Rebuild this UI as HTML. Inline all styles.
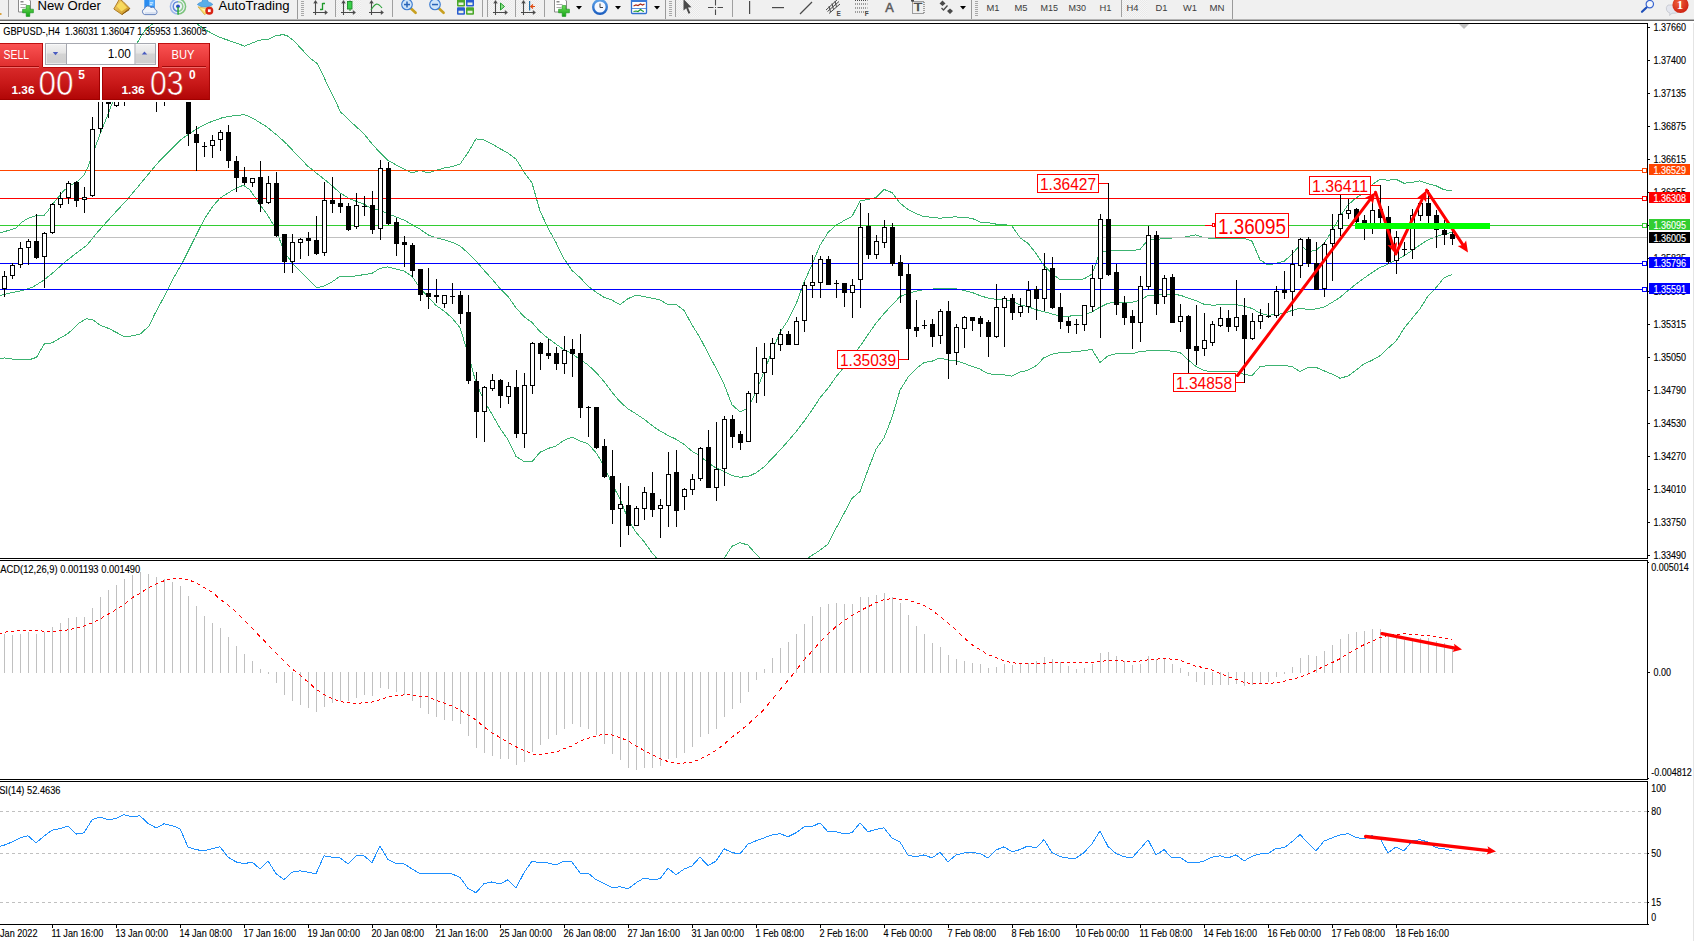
<!DOCTYPE html>
<html><head><meta charset="utf-8"><title>GBPUSD H4</title>
<style>
html,body{margin:0;padding:0;background:#fff;}
body{width:1694px;height:941px;overflow:hidden;position:relative;font-family:"Liberation Sans",sans-serif;}
</style></head><body>
<svg width="1694" height="941" viewBox="0 0 1694 941" style="position:absolute;left:0;top:0" font-family="Liberation Sans, sans-serif">
<defs><clipPath id="cm"><rect x="0" y="24" width="1647" height="534"/></clipPath><clipPath id="c2"><rect x="0" y="561" width="1647" height="218"/></clipPath><clipPath id="c3"><rect x="0" y="782" width="1647" height="142"/></clipPath></defs>
<rect x="0" y="24" width="1694" height="917" fill="#fff"/>
<g clip-path="url(#cm)">
<polyline points="-4.0,233.5 0.0,232.7 8.5,230.5 15.9,228.0 21.2,222.7 27.6,218.4 35.0,215.9 43.6,215.9 47.8,211.0 53.1,203.6 58.4,197.2 63.7,190.8 70.1,185.5 77.6,181.2 83.9,174.9 88.2,166.4 91.4,156.8 95.6,146.2 99.9,134.5 104.1,123.9 108.4,113.2 111.6,104.7 125.0,70.5 138.2,41.0 143.4,32.4 148.6,26.8 152.3,24.2 160.0,16.5 175.0,10.5 190.0,16.5 197.7,24.5 207.4,30.9 219.3,37.2 231.2,41.3 244.6,46.1 259.5,40.1 268.4,39.5 275.8,35.7 283.3,34.6 287.7,36.1 293.7,40.6 302.6,50.3 311.5,59.2 317.5,63.7 322.0,72.6 327.9,86.0 335.4,100.9 340.6,112.0 347.0,118.0 348.0,119.1 356.0,126.5 364.0,133.8 372.0,143.9 380.0,152.6 388.0,160.3 396.0,164.8 404.0,169.1 412.0,172.9 420.0,170.2 428.0,172.9 436.0,170.3 444.0,168.1 452.0,166.6 460.0,164.2 468.0,152.5 476.0,138.9 484.0,139.8 492.0,144.0 500.0,148.7 508.0,153.1 516.0,159.1 524.0,172.0 532.0,183.0 540.0,211.0 548.0,228.0 556.0,242.6 564.0,258.7 572.0,270.4 580.0,277.6 588.0,286.0 596.0,292.2 604.0,297.3 612.0,300.1 620.0,304.8 628.0,298.7 636.0,295.3 644.0,296.5 652.0,298.2 660.0,299.9 668.0,304.7 676.0,304.5 684.0,310.4 692.0,324.8 700.0,337.7 708.0,353.1 716.0,368.2 724.0,384.2 732.0,404.8 740.0,411.9 748.0,408.0 756.0,391.6 764.0,371.7 772.0,351.5 780.0,332.4 788.0,320.2 796.0,304.3 804.0,282.3 812.0,264.7 820.0,245.3 828.0,232.5 836.0,225.4 844.0,220.6 852.0,216.4 860.0,201.0 868.0,199.5 876.0,197.4 884.0,189.4 892.0,192.6 900.0,203.1 908.0,209.5 916.0,213.7 924.0,216.6 932.0,217.3 940.0,218.3 948.0,217.2 956.0,216.9 964.0,217.5 972.0,218.3 980.0,222.0 988.0,222.7 996.0,224.1 1004.0,224.4 1012.0,225.9 1020.0,237.8 1028.0,243.3 1036.0,253.4 1044.0,265.7 1052.0,273.5 1060.0,279.8 1068.0,279.8 1076.0,279.9 1084.0,278.9 1092.0,274.2 1100.0,252.1 1108.0,250.7 1116.0,250.7 1124.0,250.7 1132.0,250.7 1140.0,249.4 1148.0,239.8 1156.0,239.8 1164.0,238.3 1172.0,238.0 1180.0,237.9 1188.0,236.4 1196.0,234.9 1204.0,237.9 1212.0,238.1 1220.0,238.1 1228.0,238.1 1236.0,238.1 1244.0,238.1 1252.0,241.2 1260.0,259.8 1268.0,264.9 1276.0,263.4 1284.0,261.3 1292.0,254.4 1300.0,244.8 1308.0,251.7 1316.0,250.3 1324.0,243.5 1332.0,230.9 1340.0,216.6 1348.0,204.9 1356.0,198.0 1364.0,192.6 1372.0,184.8 1380.0,179.3 1388.0,180.3 1396.0,179.3 1404.0,183.2 1412.0,182.5 1420.0,180.9 1428.0,183.8 1436.0,185.8 1444.0,189.8 1452.0,190.7" fill="none" stroke="#3cb371" stroke-width="1" shape-rendering="crispEdges"/>
<polyline points="-4.0,296.0 0.0,295.4 10.6,292.8 21.2,290.7 31.9,287.5 42.5,281.1 53.1,272.6 63.7,263.1 74.4,254.6 87.1,245.0 95.6,234.4 104.1,224.8 114.7,213.1 127.5,199.3 138.1,186.6 148.7,173.8 159.4,161.1 170.0,150.4 180.6,139.8 191.2,132.4 201.9,126.0 212.5,121.1 223.1,117.5 233.7,115.8 244.4,114.7 249.0,116.5 255.0,119.6 265.6,126.0 276.2,134.5 286.9,144.1 297.5,155.7 308.1,166.4 318.7,174.9 329.4,183.4 340.0,192.9 347.0,197.0 348.0,198.1 356.0,201.2 364.0,204.2 372.0,208.7 380.0,210.4 388.0,213.6 396.0,216.9 404.0,220.0 412.0,224.6 420.0,229.2 428.0,234.8 436.0,237.8 444.0,239.6 452.0,242.2 460.0,245.9 468.0,252.9 476.0,260.9 484.0,270.2 492.0,279.1 500.0,288.5 508.0,296.4 516.0,307.8 524.0,316.7 532.0,322.4 540.0,331.6 548.0,338.2 556.0,344.2 564.0,349.6 572.0,353.7 580.0,359.4 588.0,364.9 596.0,372.4 604.0,381.5 612.0,392.1 620.0,401.7 628.0,408.9 636.0,413.8 644.0,419.1 652.0,425.5 660.0,431.0 668.0,435.4 676.0,439.2 684.0,444.4 692.0,451.2 700.0,456.0 708.0,462.6 716.0,467.9 724.0,471.4 732.0,475.5 740.0,477.2 748.0,476.6 756.0,472.9 764.0,466.9 772.0,458.6 780.0,450.1 788.0,441.1 796.0,431.8 804.0,421.4 812.0,410.1 820.0,397.8 828.0,388.2 836.0,376.9 844.0,367.1 852.0,357.4 860.0,346.3 868.0,334.6 876.0,323.2 884.0,313.6 892.0,305.0 900.0,296.6 908.0,293.4 916.0,291.2 924.0,289.6 932.0,289.2 940.0,288.1 948.0,288.6 956.0,288.9 964.0,290.4 972.0,292.4 980.0,295.6 988.0,298.1 996.0,299.4 1004.0,299.6 1012.0,301.0 1020.0,304.9 1028.0,306.8 1036.0,309.6 1044.0,311.7 1052.0,313.9 1060.0,316.2 1068.0,316.1 1076.0,315.8 1084.0,314.8 1092.0,311.9 1100.0,307.2 1108.0,303.3 1116.0,302.1 1124.0,302.1 1132.0,302.2 1140.0,300.4 1148.0,295.4 1156.0,295.1 1164.0,294.1 1172.0,294.6 1180.0,295.1 1188.0,298.1 1196.0,300.6 1204.0,304.2 1212.0,305.1 1220.0,304.9 1228.0,304.9 1236.0,304.6 1244.0,306.2 1252.0,308.4 1260.0,313.2 1268.0,315.3 1276.0,314.6 1284.0,313.4 1292.0,310.5 1300.0,308.1 1308.0,309.6 1316.0,308.9 1324.0,307.1 1332.0,302.5 1340.0,297.4 1348.0,290.5 1356.0,284.1 1364.0,278.2 1372.0,272.6 1380.0,267.5 1388.0,264.2 1396.0,260.2 1404.0,255.8 1412.0,250.5 1420.0,244.9 1428.0,239.8 1436.0,236.8 1444.0,233.8 1452.0,232.6" fill="none" stroke="#3cb371" stroke-width="1" shape-rendering="crispEdges"/>
<polyline points="-4.0,359.3 0.0,358.8 4.7,357.9 11.8,359.0 18.9,359.9 28.9,359.9 36.6,357.3 44.3,343.9 52.0,342.8 67.9,333.7 79.1,323.0 86.2,318.7 93.3,320.1 100.4,325.4 108.6,328.4 125.1,337.0 132.2,335.8 140.5,333.9 148.8,326.2 154.7,314.2 161.7,301.2 167.9,289.6 174.2,276.9 182.7,262.0 191.2,245.0 199.7,228.0 206.1,216.3 212.5,206.7 219.9,198.2 231.6,190.8 243.3,185.1 249.7,189.7 255.0,197.2 261.4,206.7 267.7,215.2 274.1,225.9 278.4,236.5 282.6,247.1 286.9,255.6 293.2,264.1 301.7,272.6 310.2,281.1 316.6,287.9 323.0,286.4 331.5,282.2 340.0,276.4 347.0,276.4 348.0,277.0 356.0,275.9 364.0,274.6 372.0,273.4 380.0,268.3 388.0,266.9 396.0,269.0 404.0,270.9 412.0,276.3 420.0,288.1 428.0,296.7 436.0,305.4 444.0,311.0 452.0,317.9 460.0,327.7 468.0,353.4 476.0,382.8 484.0,400.6 492.0,414.1 500.0,428.3 508.0,439.6 516.0,456.4 524.0,461.4 532.0,461.8 540.0,452.3 548.0,448.5 556.0,445.9 564.0,440.4 572.0,437.0 580.0,441.1 588.0,443.8 596.0,452.7 604.0,465.7 612.0,484.2 620.0,498.6 628.0,519.2 636.0,532.3 644.0,541.6 652.0,552.8 660.0,562.1 668.0,566.1 676.0,574.0 684.0,578.5 692.0,577.7 700.0,574.3 708.0,572.1 716.0,567.6 724.0,558.5 732.0,546.2 740.0,542.6 748.0,545.1 756.0,554.1 764.0,562.2 772.0,565.8 780.0,567.9 788.0,562.0 796.0,559.2 804.0,560.5 812.0,555.4 820.0,550.2 828.0,544.0 836.0,528.4 844.0,513.5 852.0,498.3 860.0,491.6 868.0,469.8 876.0,449.1 884.0,437.9 892.0,417.4 900.0,390.2 908.0,377.3 916.0,368.8 924.0,362.6 932.0,361.2 940.0,357.9 948.0,359.9 956.0,360.8 964.0,363.4 972.0,366.4 980.0,369.1 988.0,373.6 996.0,374.6 1004.0,374.9 1012.0,376.1 1020.0,372.1 1028.0,370.2 1036.0,365.8 1044.0,357.7 1052.0,354.3 1060.0,352.6 1068.0,352.3 1076.0,351.6 1084.0,350.6 1092.0,349.5 1100.0,362.4 1108.0,355.9 1116.0,353.6 1124.0,353.6 1132.0,353.8 1140.0,351.4 1148.0,350.9 1156.0,350.5 1164.0,350.0 1172.0,351.3 1180.0,352.4 1188.0,359.7 1196.0,366.4 1204.0,370.5 1212.0,372.0 1220.0,371.7 1228.0,371.8 1236.0,371.1 1244.0,374.4 1252.0,375.6 1260.0,366.6 1268.0,365.7 1276.0,365.9 1284.0,365.5 1292.0,366.6 1300.0,371.5 1308.0,367.4 1316.0,367.4 1324.0,370.8 1332.0,374.1 1340.0,378.2 1348.0,376.1 1356.0,370.1 1364.0,363.9 1372.0,360.3 1380.0,355.7 1388.0,348.2 1396.0,341.2 1404.0,328.4 1412.0,318.5 1420.0,308.9 1428.0,295.9 1436.0,287.7 1444.0,277.9 1452.0,274.4" fill="none" stroke="#3cb371" stroke-width="1" shape-rendering="crispEdges"/>
<rect x="0" y="237" width="1647" height="1" fill="#c0c0c0"/>
<rect x="0" y="170" width="1642" height="1" fill="#ff4500"/>
<rect x="0" y="198" width="1642" height="1" fill="#ff0000"/>
<rect x="0" y="225" width="1642" height="1" fill="#32cd32"/>
<rect x="0" y="263" width="1642" height="1" fill="#0000ff"/>
<rect x="0" y="289" width="1642" height="1" fill="#0000ff"/>
<g shape-rendering="crispEdges">
<rect x="4" y="271" width="1" height="26" fill="#000"/>
<rect x="2" y="276" width="5" height="13" fill="#000"/>
<rect x="3" y="277" width="3" height="11" fill="#fff"/>
<rect x="12" y="263" width="1" height="16" fill="#000"/>
<rect x="10" y="265" width="5" height="11" fill="#000"/>
<rect x="11" y="266" width="3" height="9" fill="#fff"/>
<rect x="20" y="242" width="1" height="26" fill="#000"/>
<rect x="18" y="248" width="5" height="17" fill="#000"/>
<rect x="19" y="249" width="3" height="15" fill="#fff"/>
<rect x="28" y="239" width="1" height="26" fill="#000"/>
<rect x="26" y="241" width="5" height="7" fill="#000"/>
<rect x="27" y="242" width="3" height="5" fill="#fff"/>
<rect x="36" y="214" width="1" height="45" fill="#000"/>
<rect x="34" y="241" width="5" height="17" fill="#000"/>
<rect x="44" y="232" width="1" height="56" fill="#000"/>
<rect x="42" y="233" width="5" height="24" fill="#000"/>
<rect x="43" y="234" width="3" height="22" fill="#fff"/>
<rect x="52" y="203" width="1" height="31" fill="#000"/>
<rect x="50" y="204" width="5" height="29" fill="#000"/>
<rect x="51" y="205" width="3" height="27" fill="#fff"/>
<rect x="60" y="192" width="1" height="16" fill="#000"/>
<rect x="58" y="198" width="5" height="7" fill="#000"/>
<rect x="59" y="199" width="3" height="5" fill="#fff"/>
<rect x="68" y="181" width="1" height="23" fill="#000"/>
<rect x="66" y="183" width="5" height="15" fill="#000"/>
<rect x="67" y="184" width="3" height="13" fill="#fff"/>
<rect x="76" y="181" width="1" height="26" fill="#000"/>
<rect x="74" y="182" width="5" height="19" fill="#000"/>
<rect x="84" y="187" width="1" height="26" fill="#000"/>
<rect x="82" y="197" width="5" height="3" fill="#000"/>
<rect x="83" y="198" width="3" height="1" fill="#fff"/>
<rect x="92" y="117" width="1" height="80" fill="#000"/>
<rect x="90" y="129" width="5" height="67" fill="#000"/>
<rect x="91" y="130" width="3" height="65" fill="#fff"/>
<rect x="100" y="60" width="1" height="73" fill="#000"/>
<rect x="98" y="70" width="5" height="59" fill="#000"/>
<rect x="99" y="71" width="3" height="57" fill="#fff"/>
<rect x="108" y="80" width="1" height="38" fill="#000"/>
<rect x="106" y="85" width="5" height="19" fill="#000"/>
<rect x="116" y="80" width="1" height="27" fill="#000"/>
<rect x="114" y="85" width="5" height="21" fill="#000"/>
<rect x="115" y="86" width="3" height="19" fill="#fff"/>
<rect x="124" y="80" width="1" height="26" fill="#000"/>
<rect x="122" y="85" width="5" height="10" fill="#000"/>
<rect x="123" y="86" width="3" height="8" fill="#fff"/>
<rect x="132" y="80" width="1" height="18" fill="#000"/>
<rect x="130" y="85" width="5" height="10" fill="#000"/>
<rect x="131" y="86" width="3" height="8" fill="#fff"/>
<rect x="140" y="80" width="1" height="18" fill="#000"/>
<rect x="138" y="85" width="5" height="10" fill="#000"/>
<rect x="139" y="86" width="3" height="8" fill="#fff"/>
<rect x="148" y="80" width="1" height="18" fill="#000"/>
<rect x="146" y="85" width="5" height="10" fill="#000"/>
<rect x="147" y="86" width="3" height="8" fill="#fff"/>
<rect x="156" y="80" width="1" height="32" fill="#000"/>
<rect x="154" y="85" width="5" height="10" fill="#000"/>
<rect x="155" y="86" width="3" height="8" fill="#fff"/>
<rect x="164" y="80" width="1" height="26" fill="#000"/>
<rect x="162" y="85" width="5" height="10" fill="#000"/>
<rect x="163" y="86" width="3" height="8" fill="#fff"/>
<rect x="172" y="80" width="1" height="18" fill="#000"/>
<rect x="170" y="85" width="5" height="10" fill="#000"/>
<rect x="171" y="86" width="3" height="8" fill="#fff"/>
<rect x="180" y="80" width="1" height="18" fill="#000"/>
<rect x="178" y="85" width="5" height="10" fill="#000"/>
<rect x="179" y="86" width="3" height="8" fill="#fff"/>
<rect x="188" y="80" width="1" height="66" fill="#000"/>
<rect x="186" y="85" width="5" height="49" fill="#000"/>
<rect x="196" y="126" width="1" height="45" fill="#000"/>
<rect x="194" y="134" width="5" height="9" fill="#000"/>
<rect x="204" y="142" width="1" height="15" fill="#000"/>
<rect x="202" y="146" width="5" height="1" fill="#000"/>
<rect x="212" y="135" width="1" height="23" fill="#000"/>
<rect x="210" y="140" width="5" height="6" fill="#000"/>
<rect x="211" y="141" width="3" height="4" fill="#fff"/>
<rect x="220" y="130" width="1" height="21" fill="#000"/>
<rect x="218" y="132" width="5" height="8" fill="#000"/>
<rect x="219" y="133" width="3" height="6" fill="#fff"/>
<rect x="228" y="125" width="1" height="43" fill="#000"/>
<rect x="226" y="132" width="5" height="29" fill="#000"/>
<rect x="236" y="156" width="1" height="36" fill="#000"/>
<rect x="234" y="161" width="5" height="17" fill="#000"/>
<rect x="244" y="167" width="1" height="18" fill="#000"/>
<rect x="242" y="177" width="5" height="6" fill="#000"/>
<rect x="252" y="178" width="1" height="9" fill="#000"/>
<rect x="250" y="178" width="5" height="5" fill="#000"/>
<rect x="251" y="179" width="3" height="3" fill="#fff"/>
<rect x="260" y="161" width="1" height="51" fill="#000"/>
<rect x="258" y="177" width="5" height="27" fill="#000"/>
<rect x="268" y="176" width="1" height="28" fill="#000"/>
<rect x="266" y="183" width="5" height="20" fill="#000"/>
<rect x="267" y="184" width="3" height="18" fill="#fff"/>
<rect x="276" y="172" width="1" height="65" fill="#000"/>
<rect x="274" y="183" width="5" height="53" fill="#000"/>
<rect x="284" y="234" width="1" height="39" fill="#000"/>
<rect x="282" y="234" width="5" height="28" fill="#000"/>
<rect x="292" y="234" width="1" height="39" fill="#000"/>
<rect x="290" y="242" width="5" height="20" fill="#000"/>
<rect x="291" y="243" width="3" height="18" fill="#fff"/>
<rect x="300" y="238" width="1" height="21" fill="#000"/>
<rect x="298" y="239" width="5" height="4" fill="#000"/>
<rect x="299" y="240" width="3" height="2" fill="#fff"/>
<rect x="308" y="232" width="1" height="24" fill="#000"/>
<rect x="306" y="238" width="5" height="3" fill="#000"/>
<rect x="316" y="216" width="1" height="39" fill="#000"/>
<rect x="314" y="240" width="5" height="14" fill="#000"/>
<rect x="324" y="182" width="1" height="74" fill="#000"/>
<rect x="322" y="200" width="5" height="53" fill="#000"/>
<rect x="323" y="201" width="3" height="51" fill="#fff"/>
<rect x="332" y="177" width="1" height="36" fill="#000"/>
<rect x="330" y="200" width="5" height="4" fill="#000"/>
<rect x="340" y="194" width="1" height="19" fill="#000"/>
<rect x="338" y="203" width="5" height="4" fill="#000"/>
<rect x="348" y="203" width="1" height="28" fill="#000"/>
<rect x="346" y="206" width="5" height="24" fill="#000"/>
<rect x="356" y="193" width="1" height="36" fill="#000"/>
<rect x="354" y="205" width="5" height="22" fill="#000"/>
<rect x="355" y="206" width="3" height="20" fill="#fff"/>
<rect x="364" y="196" width="1" height="20" fill="#000"/>
<rect x="362" y="206" width="5" height="1" fill="#000"/>
<rect x="372" y="191" width="1" height="43" fill="#000"/>
<rect x="370" y="205" width="5" height="25" fill="#000"/>
<rect x="380" y="160" width="1" height="80" fill="#000"/>
<rect x="378" y="168" width="5" height="61" fill="#000"/>
<rect x="379" y="169" width="3" height="59" fill="#fff"/>
<rect x="388" y="162" width="1" height="63" fill="#000"/>
<rect x="386" y="168" width="5" height="56" fill="#000"/>
<rect x="396" y="218" width="1" height="38" fill="#000"/>
<rect x="394" y="222" width="5" height="22" fill="#000"/>
<rect x="404" y="236" width="1" height="31" fill="#000"/>
<rect x="402" y="242" width="5" height="3" fill="#000"/>
<rect x="412" y="243" width="1" height="34" fill="#000"/>
<rect x="410" y="245" width="5" height="26" fill="#000"/>
<rect x="420" y="269" width="1" height="32" fill="#000"/>
<rect x="418" y="269" width="5" height="26" fill="#000"/>
<rect x="428" y="268" width="1" height="41" fill="#000"/>
<rect x="426" y="293" width="5" height="4" fill="#000"/>
<rect x="436" y="279" width="1" height="24" fill="#000"/>
<rect x="434" y="295" width="5" height="2" fill="#000"/>
<rect x="444" y="295" width="1" height="13" fill="#000"/>
<rect x="442" y="295" width="5" height="9" fill="#000"/>
<rect x="443" y="296" width="3" height="7" fill="#fff"/>
<rect x="452" y="283" width="1" height="21" fill="#000"/>
<rect x="450" y="296" width="5" height="1" fill="#000"/>
<rect x="460" y="291" width="1" height="33" fill="#000"/>
<rect x="458" y="295" width="5" height="19" fill="#000"/>
<rect x="468" y="295" width="1" height="89" fill="#000"/>
<rect x="466" y="312" width="5" height="69" fill="#000"/>
<rect x="476" y="372" width="1" height="66" fill="#000"/>
<rect x="474" y="381" width="5" height="31" fill="#000"/>
<rect x="484" y="386" width="1" height="56" fill="#000"/>
<rect x="482" y="387" width="5" height="25" fill="#000"/>
<rect x="483" y="388" width="3" height="23" fill="#fff"/>
<rect x="492" y="374" width="1" height="17" fill="#000"/>
<rect x="490" y="380" width="5" height="9" fill="#000"/>
<rect x="491" y="381" width="3" height="7" fill="#fff"/>
<rect x="500" y="379" width="1" height="29" fill="#000"/>
<rect x="498" y="380" width="5" height="16" fill="#000"/>
<rect x="508" y="382" width="1" height="22" fill="#000"/>
<rect x="506" y="386" width="5" height="11" fill="#000"/>
<rect x="507" y="387" width="3" height="9" fill="#fff"/>
<rect x="516" y="370" width="1" height="68" fill="#000"/>
<rect x="514" y="387" width="5" height="47" fill="#000"/>
<rect x="524" y="373" width="1" height="75" fill="#000"/>
<rect x="522" y="385" width="5" height="49" fill="#000"/>
<rect x="523" y="386" width="3" height="47" fill="#fff"/>
<rect x="532" y="342" width="1" height="52" fill="#000"/>
<rect x="530" y="343" width="5" height="43" fill="#000"/>
<rect x="531" y="344" width="3" height="41" fill="#fff"/>
<rect x="540" y="342" width="1" height="28" fill="#000"/>
<rect x="538" y="343" width="5" height="11" fill="#000"/>
<rect x="548" y="339" width="1" height="20" fill="#000"/>
<rect x="546" y="353" width="5" height="3" fill="#000"/>
<rect x="556" y="347" width="1" height="23" fill="#000"/>
<rect x="554" y="353" width="5" height="11" fill="#000"/>
<rect x="564" y="336" width="1" height="38" fill="#000"/>
<rect x="562" y="350" width="5" height="14" fill="#000"/>
<rect x="563" y="351" width="3" height="12" fill="#fff"/>
<rect x="572" y="339" width="1" height="38" fill="#000"/>
<rect x="570" y="349" width="5" height="5" fill="#000"/>
<rect x="580" y="334" width="1" height="84" fill="#000"/>
<rect x="578" y="353" width="5" height="55" fill="#000"/>
<rect x="588" y="406" width="1" height="31" fill="#000"/>
<rect x="586" y="407" width="5" height="1" fill="#000"/>
<rect x="596" y="407" width="1" height="42" fill="#000"/>
<rect x="594" y="407" width="5" height="41" fill="#000"/>
<rect x="604" y="439" width="1" height="39" fill="#000"/>
<rect x="602" y="446" width="5" height="31" fill="#000"/>
<rect x="612" y="450" width="1" height="74" fill="#000"/>
<rect x="610" y="476" width="5" height="34" fill="#000"/>
<rect x="620" y="483" width="1" height="64" fill="#000"/>
<rect x="618" y="504" width="5" height="5" fill="#000"/>
<rect x="619" y="505" width="3" height="3" fill="#fff"/>
<rect x="628" y="486" width="1" height="49" fill="#000"/>
<rect x="626" y="505" width="5" height="21" fill="#000"/>
<rect x="636" y="506" width="1" height="20" fill="#000"/>
<rect x="634" y="508" width="5" height="18" fill="#000"/>
<rect x="635" y="509" width="3" height="16" fill="#fff"/>
<rect x="644" y="487" width="1" height="33" fill="#000"/>
<rect x="642" y="492" width="5" height="17" fill="#000"/>
<rect x="643" y="493" width="3" height="15" fill="#fff"/>
<rect x="652" y="472" width="1" height="45" fill="#000"/>
<rect x="650" y="493" width="5" height="17" fill="#000"/>
<rect x="660" y="499" width="1" height="39" fill="#000"/>
<rect x="658" y="505" width="5" height="4" fill="#000"/>
<rect x="659" y="506" width="3" height="2" fill="#fff"/>
<rect x="668" y="452" width="1" height="75" fill="#000"/>
<rect x="666" y="474" width="5" height="32" fill="#000"/>
<rect x="667" y="475" width="3" height="30" fill="#fff"/>
<rect x="676" y="450" width="1" height="77" fill="#000"/>
<rect x="674" y="472" width="5" height="39" fill="#000"/>
<rect x="684" y="488" width="1" height="22" fill="#000"/>
<rect x="682" y="489" width="5" height="8" fill="#000"/>
<rect x="683" y="490" width="3" height="6" fill="#fff"/>
<rect x="692" y="474" width="1" height="21" fill="#000"/>
<rect x="690" y="479" width="5" height="11" fill="#000"/>
<rect x="691" y="480" width="3" height="9" fill="#fff"/>
<rect x="700" y="447" width="1" height="34" fill="#000"/>
<rect x="698" y="448" width="5" height="31" fill="#000"/>
<rect x="699" y="449" width="3" height="29" fill="#fff"/>
<rect x="708" y="430" width="1" height="58" fill="#000"/>
<rect x="706" y="447" width="5" height="41" fill="#000"/>
<rect x="716" y="422" width="1" height="79" fill="#000"/>
<rect x="714" y="469" width="5" height="19" fill="#000"/>
<rect x="715" y="470" width="3" height="17" fill="#fff"/>
<rect x="724" y="416" width="1" height="70" fill="#000"/>
<rect x="722" y="419" width="5" height="50" fill="#000"/>
<rect x="723" y="420" width="3" height="48" fill="#fff"/>
<rect x="732" y="415" width="1" height="33" fill="#000"/>
<rect x="730" y="419" width="5" height="18" fill="#000"/>
<rect x="740" y="431" width="1" height="19" fill="#000"/>
<rect x="738" y="434" width="5" height="9" fill="#000"/>
<rect x="748" y="391" width="1" height="51" fill="#000"/>
<rect x="746" y="393" width="5" height="49" fill="#000"/>
<rect x="747" y="394" width="3" height="47" fill="#fff"/>
<rect x="756" y="347" width="1" height="56" fill="#000"/>
<rect x="754" y="373" width="5" height="21" fill="#000"/>
<rect x="755" y="374" width="3" height="19" fill="#fff"/>
<rect x="764" y="343" width="1" height="53" fill="#000"/>
<rect x="762" y="358" width="5" height="15" fill="#000"/>
<rect x="763" y="359" width="3" height="13" fill="#fff"/>
<rect x="772" y="338" width="1" height="37" fill="#000"/>
<rect x="770" y="343" width="5" height="16" fill="#000"/>
<rect x="771" y="344" width="3" height="14" fill="#fff"/>
<rect x="780" y="329" width="1" height="22" fill="#000"/>
<rect x="778" y="334" width="5" height="11" fill="#000"/>
<rect x="779" y="335" width="3" height="9" fill="#fff"/>
<rect x="788" y="331" width="1" height="14" fill="#000"/>
<rect x="786" y="334" width="5" height="11" fill="#000"/>
<rect x="796" y="317" width="1" height="28" fill="#000"/>
<rect x="794" y="321" width="5" height="24" fill="#000"/>
<rect x="795" y="322" width="3" height="22" fill="#fff"/>
<rect x="804" y="282" width="1" height="50" fill="#000"/>
<rect x="802" y="285" width="5" height="36" fill="#000"/>
<rect x="803" y="286" width="3" height="34" fill="#fff"/>
<rect x="812" y="255" width="1" height="43" fill="#000"/>
<rect x="810" y="282" width="5" height="4" fill="#000"/>
<rect x="811" y="283" width="3" height="2" fill="#fff"/>
<rect x="820" y="256" width="1" height="42" fill="#000"/>
<rect x="818" y="259" width="5" height="24" fill="#000"/>
<rect x="819" y="260" width="3" height="22" fill="#fff"/>
<rect x="828" y="256" width="1" height="29" fill="#000"/>
<rect x="826" y="259" width="5" height="26" fill="#000"/>
<rect x="836" y="280" width="1" height="18" fill="#000"/>
<rect x="834" y="283" width="5" height="1" fill="#000"/>
<rect x="844" y="283" width="1" height="24" fill="#000"/>
<rect x="842" y="283" width="5" height="10" fill="#000"/>
<rect x="852" y="279" width="1" height="39" fill="#000"/>
<rect x="850" y="285" width="5" height="8" fill="#000"/>
<rect x="851" y="286" width="3" height="6" fill="#fff"/>
<rect x="860" y="203" width="1" height="105" fill="#000"/>
<rect x="858" y="227" width="5" height="53" fill="#000"/>
<rect x="859" y="228" width="3" height="51" fill="#fff"/>
<rect x="868" y="213" width="1" height="46" fill="#000"/>
<rect x="866" y="226" width="5" height="29" fill="#000"/>
<rect x="876" y="235" width="1" height="24" fill="#000"/>
<rect x="874" y="241" width="5" height="14" fill="#000"/>
<rect x="875" y="242" width="3" height="12" fill="#fff"/>
<rect x="884" y="220" width="1" height="28" fill="#000"/>
<rect x="882" y="227" width="5" height="16" fill="#000"/>
<rect x="883" y="228" width="3" height="14" fill="#fff"/>
<rect x="892" y="223" width="1" height="43" fill="#000"/>
<rect x="890" y="227" width="5" height="37" fill="#000"/>
<rect x="900" y="255" width="1" height="48" fill="#000"/>
<rect x="898" y="262" width="5" height="14" fill="#000"/>
<rect x="908" y="264" width="1" height="96" fill="#000"/>
<rect x="906" y="274" width="5" height="55" fill="#000"/>
<rect x="916" y="300" width="1" height="37" fill="#000"/>
<rect x="914" y="327" width="5" height="4" fill="#000"/>
<rect x="924" y="320" width="1" height="9" fill="#000"/>
<rect x="922" y="325" width="5" height="1" fill="#000"/>
<rect x="932" y="319" width="1" height="28" fill="#000"/>
<rect x="930" y="324" width="5" height="13" fill="#000"/>
<rect x="940" y="309" width="1" height="35" fill="#000"/>
<rect x="938" y="311" width="5" height="25" fill="#000"/>
<rect x="939" y="312" width="3" height="23" fill="#fff"/>
<rect x="948" y="301" width="1" height="78" fill="#000"/>
<rect x="946" y="311" width="5" height="43" fill="#000"/>
<rect x="956" y="324" width="1" height="41" fill="#000"/>
<rect x="954" y="327" width="5" height="26" fill="#000"/>
<rect x="955" y="328" width="3" height="24" fill="#fff"/>
<rect x="964" y="316" width="1" height="32" fill="#000"/>
<rect x="962" y="317" width="5" height="12" fill="#000"/>
<rect x="963" y="318" width="3" height="10" fill="#fff"/>
<rect x="972" y="317" width="1" height="14" fill="#000"/>
<rect x="970" y="317" width="5" height="4" fill="#000"/>
<rect x="980" y="316" width="1" height="21" fill="#000"/>
<rect x="978" y="318" width="5" height="6" fill="#000"/>
<rect x="988" y="320" width="1" height="37" fill="#000"/>
<rect x="986" y="322" width="5" height="15" fill="#000"/>
<rect x="996" y="284" width="1" height="54" fill="#000"/>
<rect x="994" y="307" width="5" height="30" fill="#000"/>
<rect x="995" y="308" width="3" height="28" fill="#fff"/>
<rect x="1004" y="296" width="1" height="51" fill="#000"/>
<rect x="1002" y="298" width="5" height="10" fill="#000"/>
<rect x="1003" y="299" width="3" height="8" fill="#fff"/>
<rect x="1012" y="294" width="1" height="26" fill="#000"/>
<rect x="1010" y="298" width="5" height="15" fill="#000"/>
<rect x="1020" y="298" width="1" height="19" fill="#000"/>
<rect x="1018" y="306" width="5" height="7" fill="#000"/>
<rect x="1019" y="307" width="3" height="5" fill="#fff"/>
<rect x="1028" y="281" width="1" height="32" fill="#000"/>
<rect x="1026" y="290" width="5" height="17" fill="#000"/>
<rect x="1027" y="291" width="3" height="15" fill="#fff"/>
<rect x="1036" y="286" width="1" height="34" fill="#000"/>
<rect x="1034" y="289" width="5" height="10" fill="#000"/>
<rect x="1044" y="253" width="1" height="58" fill="#000"/>
<rect x="1042" y="269" width="5" height="30" fill="#000"/>
<rect x="1043" y="270" width="3" height="28" fill="#fff"/>
<rect x="1052" y="257" width="1" height="52" fill="#000"/>
<rect x="1050" y="268" width="5" height="40" fill="#000"/>
<rect x="1060" y="293" width="1" height="36" fill="#000"/>
<rect x="1058" y="307" width="5" height="15" fill="#000"/>
<rect x="1068" y="317" width="1" height="16" fill="#000"/>
<rect x="1066" y="321" width="5" height="5" fill="#000"/>
<rect x="1076" y="319" width="1" height="15" fill="#000"/>
<rect x="1074" y="324" width="5" height="1" fill="#000"/>
<rect x="1084" y="305" width="1" height="26" fill="#000"/>
<rect x="1082" y="305" width="5" height="20" fill="#000"/>
<rect x="1083" y="306" width="3" height="18" fill="#fff"/>
<rect x="1092" y="265" width="1" height="47" fill="#000"/>
<rect x="1090" y="278" width="5" height="29" fill="#000"/>
<rect x="1091" y="279" width="3" height="27" fill="#fff"/>
<rect x="1100" y="214" width="1" height="124" fill="#000"/>
<rect x="1098" y="219" width="5" height="60" fill="#000"/>
<rect x="1099" y="220" width="3" height="58" fill="#fff"/>
<rect x="1108" y="213" width="1" height="63" fill="#000"/>
<rect x="1106" y="219" width="5" height="56" fill="#000"/>
<rect x="1116" y="264" width="1" height="51" fill="#000"/>
<rect x="1114" y="272" width="5" height="33" fill="#000"/>
<rect x="1124" y="296" width="1" height="29" fill="#000"/>
<rect x="1122" y="303" width="5" height="15" fill="#000"/>
<rect x="1132" y="310" width="1" height="39" fill="#000"/>
<rect x="1130" y="316" width="5" height="7" fill="#000"/>
<rect x="1140" y="276" width="1" height="66" fill="#000"/>
<rect x="1138" y="286" width="5" height="37" fill="#000"/>
<rect x="1139" y="287" width="3" height="35" fill="#fff"/>
<rect x="1148" y="226" width="1" height="64" fill="#000"/>
<rect x="1146" y="235" width="5" height="52" fill="#000"/>
<rect x="1147" y="236" width="3" height="50" fill="#fff"/>
<rect x="1156" y="231" width="1" height="84" fill="#000"/>
<rect x="1154" y="235" width="5" height="69" fill="#000"/>
<rect x="1164" y="275" width="1" height="29" fill="#000"/>
<rect x="1162" y="278" width="5" height="19" fill="#000"/>
<rect x="1163" y="279" width="3" height="17" fill="#fff"/>
<rect x="1172" y="274" width="1" height="49" fill="#000"/>
<rect x="1170" y="277" width="5" height="46" fill="#000"/>
<rect x="1180" y="304" width="1" height="28" fill="#000"/>
<rect x="1178" y="316" width="5" height="6" fill="#000"/>
<rect x="1179" y="317" width="3" height="4" fill="#fff"/>
<rect x="1188" y="315" width="1" height="66" fill="#000"/>
<rect x="1186" y="316" width="5" height="33" fill="#000"/>
<rect x="1196" y="305" width="1" height="60" fill="#000"/>
<rect x="1194" y="346" width="5" height="5" fill="#000"/>
<rect x="1204" y="313" width="1" height="43" fill="#000"/>
<rect x="1202" y="340" width="5" height="9" fill="#000"/>
<rect x="1203" y="341" width="3" height="7" fill="#fff"/>
<rect x="1212" y="321" width="1" height="25" fill="#000"/>
<rect x="1210" y="324" width="5" height="19" fill="#000"/>
<rect x="1211" y="325" width="3" height="17" fill="#fff"/>
<rect x="1220" y="307" width="1" height="20" fill="#000"/>
<rect x="1218" y="318" width="5" height="8" fill="#000"/>
<rect x="1219" y="319" width="3" height="6" fill="#fff"/>
<rect x="1228" y="310" width="1" height="22" fill="#000"/>
<rect x="1226" y="318" width="5" height="9" fill="#000"/>
<rect x="1236" y="280" width="1" height="51" fill="#000"/>
<rect x="1234" y="317" width="5" height="10" fill="#000"/>
<rect x="1235" y="318" width="3" height="8" fill="#fff"/>
<rect x="1244" y="298" width="1" height="85" fill="#000"/>
<rect x="1242" y="315" width="5" height="24" fill="#000"/>
<rect x="1252" y="313" width="1" height="27" fill="#000"/>
<rect x="1250" y="321" width="5" height="18" fill="#000"/>
<rect x="1251" y="322" width="3" height="16" fill="#fff"/>
<rect x="1260" y="309" width="1" height="20" fill="#000"/>
<rect x="1258" y="315" width="5" height="7" fill="#000"/>
<rect x="1259" y="316" width="3" height="5" fill="#fff"/>
<rect x="1268" y="303" width="1" height="15" fill="#000"/>
<rect x="1266" y="316" width="5" height="1" fill="#000"/>
<rect x="1276" y="286" width="1" height="32" fill="#000"/>
<rect x="1274" y="291" width="5" height="25" fill="#000"/>
<rect x="1275" y="292" width="3" height="23" fill="#fff"/>
<rect x="1284" y="271" width="1" height="28" fill="#000"/>
<rect x="1282" y="290" width="5" height="3" fill="#000"/>
<rect x="1292" y="250" width="1" height="66" fill="#000"/>
<rect x="1290" y="264" width="5" height="28" fill="#000"/>
<rect x="1291" y="265" width="3" height="26" fill="#fff"/>
<rect x="1300" y="238" width="1" height="40" fill="#000"/>
<rect x="1298" y="239" width="5" height="27" fill="#000"/>
<rect x="1299" y="240" width="3" height="25" fill="#fff"/>
<rect x="1308" y="237" width="1" height="30" fill="#000"/>
<rect x="1306" y="239" width="5" height="25" fill="#000"/>
<rect x="1316" y="242" width="1" height="48" fill="#000"/>
<rect x="1314" y="263" width="5" height="27" fill="#000"/>
<rect x="1324" y="242" width="1" height="55" fill="#000"/>
<rect x="1322" y="244" width="5" height="45" fill="#000"/>
<rect x="1323" y="245" width="3" height="43" fill="#fff"/>
<rect x="1332" y="214" width="1" height="67" fill="#000"/>
<rect x="1330" y="229" width="5" height="15" fill="#000"/>
<rect x="1331" y="230" width="3" height="13" fill="#fff"/>
<rect x="1340" y="191" width="1" height="45" fill="#000"/>
<rect x="1338" y="214" width="5" height="15" fill="#000"/>
<rect x="1339" y="215" width="3" height="13" fill="#fff"/>
<rect x="1348" y="199" width="1" height="20" fill="#000"/>
<rect x="1346" y="210" width="5" height="4" fill="#000"/>
<rect x="1347" y="211" width="3" height="2" fill="#fff"/>
<rect x="1356" y="208" width="1" height="15" fill="#000"/>
<rect x="1354" y="209" width="5" height="13" fill="#000"/>
<rect x="1364" y="215" width="1" height="25" fill="#000"/>
<rect x="1362" y="220" width="5" height="5" fill="#000"/>
<rect x="1372" y="194" width="1" height="40" fill="#000"/>
<rect x="1370" y="210" width="5" height="15" fill="#000"/>
<rect x="1371" y="211" width="3" height="13" fill="#fff"/>
<rect x="1380" y="193" width="1" height="32" fill="#000"/>
<rect x="1378" y="209" width="5" height="9" fill="#000"/>
<rect x="1388" y="206" width="1" height="58" fill="#000"/>
<rect x="1386" y="217" width="5" height="45" fill="#000"/>
<rect x="1396" y="231" width="1" height="43" fill="#000"/>
<rect x="1394" y="237" width="5" height="24" fill="#000"/>
<rect x="1395" y="238" width="3" height="22" fill="#fff"/>
<rect x="1404" y="242" width="1" height="14" fill="#000"/>
<rect x="1402" y="249" width="5" height="1" fill="#000"/>
<rect x="1412" y="209" width="1" height="50" fill="#000"/>
<rect x="1410" y="215" width="5" height="35" fill="#000"/>
<rect x="1411" y="216" width="3" height="33" fill="#fff"/>
<rect x="1420" y="202" width="1" height="19" fill="#000"/>
<rect x="1418" y="203" width="5" height="13" fill="#000"/>
<rect x="1419" y="204" width="3" height="11" fill="#fff"/>
<rect x="1428" y="190" width="1" height="35" fill="#000"/>
<rect x="1426" y="203" width="5" height="13" fill="#000"/>
<rect x="1436" y="210" width="1" height="38" fill="#000"/>
<rect x="1434" y="215" width="5" height="15" fill="#000"/>
<rect x="1444" y="220" width="1" height="25" fill="#000"/>
<rect x="1442" y="230" width="5" height="5" fill="#000"/>
<rect x="1452" y="231" width="1" height="14" fill="#000"/>
<rect x="1450" y="234" width="5" height="5" fill="#000"/>
</g>
<rect x="1642.5" y="168.5" width="4" height="4" fill="#fff" stroke="#ff4500" stroke-width="1"/>
<rect x="1642.5" y="196.5" width="4" height="4" fill="#fff" stroke="#ff0000" stroke-width="1"/>
<rect x="1642.5" y="223.5" width="4" height="4" fill="#fff" stroke="#32cd32" stroke-width="1"/>
<rect x="1642.5" y="261.5" width="4" height="4" fill="#fff" stroke="#0000ff" stroke-width="1"/>
<rect x="1642.5" y="287.5" width="4" height="4" fill="#fff" stroke="#0000ff" stroke-width="1"/>
<g fill="#ff0000" shape-rendering="crispEdges">
<rect x="1099" y="183" width="9" height="1"/><rect x="1108" y="183" width="1" height="36" fill="#000"/>
<rect x="899" y="359" width="9" height="1"/>
<rect x="1371" y="185" width="9" height="1"/><rect x="1380" y="185" width="1" height="25" fill="#000"/>
<rect x="1236" y="382" width="8" height="1"/>
</g>
<rect x="1037.5" y="174.5" width="61" height="18" fill="#fff" stroke="#ff0000" stroke-width="1"/>
<text x="1040" y="190" font-size="17.3" fill="#ff0000" textLength="56" lengthAdjust="spacingAndGlyphs">1.36427</text>
<rect x="837.5" y="350.5" width="61" height="18" fill="#fff" stroke="#ff0000" stroke-width="1"/>
<text x="840" y="366" font-size="17.3" fill="#ff0000" textLength="56" lengthAdjust="spacingAndGlyphs">1.35039</text>
<rect x="1309.5" y="176.5" width="61" height="18" fill="#fff" stroke="#ff0000" stroke-width="1"/>
<text x="1312" y="192" font-size="17.3" fill="#ff0000" textLength="56" lengthAdjust="spacingAndGlyphs">1.36411</text>
<rect x="1173.5" y="373.5" width="62" height="18" fill="#fff" stroke="#ff0000" stroke-width="1"/>
<text x="1176" y="389" font-size="17.3" fill="#ff0000" textLength="56" lengthAdjust="spacingAndGlyphs">1.34858</text>
<rect x="1205" y="225" width="8" height="1" fill="#ff0000"/>
<rect x="1212.5" y="223.5" width="2" height="3" fill="#fff" stroke="#ff0000" stroke-width="1"/>
<rect x="1215.5" y="213.5" width="73" height="24" fill="#fff" stroke="#ff0000" stroke-width="1"/>
<text x="1218" y="233.6" font-size="22" fill="#ff0000" textLength="68" lengthAdjust="spacingAndGlyphs">1.36095</text>
<line x1="1237.5" y1="375.5" x2="1370.2" y2="199.3" stroke="#ff0000" stroke-width="3" stroke-linecap="round"/>
<polygon points="1375.5,192.3 1372.9,204.1 1370.2,199.3 1364.9,198.1" fill="#ff0000"/>
<line x1="1375.5" y1="192.3" x2="1393.0" y2="245.6" stroke="#ff0000" stroke-width="3" stroke-linecap="round"/>
<polygon points="1395.7,254.0 1387.5,245.1 1393.0,245.6 1397.0,242.0" fill="#ff0000"/>
<line x1="1395.7" y1="254" x2="1422.7" y2="198.1" stroke="#ff0000" stroke-width="3" stroke-linecap="round"/>
<polygon points="1426.5,190.2 1426.2,202.3 1422.7,198.1 1417.2,197.9" fill="#ff0000"/>
<line x1="1426.5" y1="190.2" x2="1463.1" y2="245.1" stroke="#ff0000" stroke-width="3" stroke-linecap="round"/>
<polygon points="1468.0,252.4 1457.7,246.0 1463.1,245.1 1466.1,240.5" fill="#ff0000"/>
<rect x="1355" y="223" width="135" height="6" fill="#00ff00" shape-rendering="crispEdges"/>
</g>
<text x="3.2" y="35" font-size="10" fill="#000" stroke="#000" stroke-width="0.12" textLength="203.6" lengthAdjust="spacingAndGlyphs" >GBPUSD-,H4  1.36031 1.36047 1.35953 1.36005</text>
<polygon points="1459,24 1469,24 1464,29" fill="#c0c0c0"/>
<g clip-path="url(#c2)" shape-rendering="crispEdges">
<rect x="4" y="634" width="1" height="39" fill="#c0c0c0"/>
<rect x="12" y="635" width="1" height="38" fill="#c0c0c0"/>
<rect x="20" y="634" width="1" height="39" fill="#c0c0c0"/>
<rect x="28" y="632" width="1" height="41" fill="#c0c0c0"/>
<rect x="36" y="634" width="1" height="39" fill="#c0c0c0"/>
<rect x="44" y="632" width="1" height="41" fill="#c0c0c0"/>
<rect x="52" y="627" width="1" height="46" fill="#c0c0c0"/>
<rect x="60" y="623" width="1" height="50" fill="#c0c0c0"/>
<rect x="68" y="618" width="1" height="55" fill="#c0c0c0"/>
<rect x="76" y="617" width="1" height="56" fill="#c0c0c0"/>
<rect x="84" y="617" width="1" height="56" fill="#c0c0c0"/>
<rect x="92" y="608" width="1" height="65" fill="#c0c0c0"/>
<rect x="100" y="597" width="1" height="76" fill="#c0c0c0"/>
<rect x="108" y="590" width="1" height="83" fill="#c0c0c0"/>
<rect x="116" y="585" width="1" height="88" fill="#c0c0c0"/>
<rect x="124" y="579" width="1" height="94" fill="#c0c0c0"/>
<rect x="132" y="575" width="1" height="98" fill="#c0c0c0"/>
<rect x="140" y="572" width="1" height="101" fill="#c0c0c0"/>
<rect x="148" y="574" width="1" height="99" fill="#c0c0c0"/>
<rect x="156" y="577" width="1" height="96" fill="#c0c0c0"/>
<rect x="164" y="579" width="1" height="94" fill="#c0c0c0"/>
<rect x="172" y="582" width="1" height="91" fill="#c0c0c0"/>
<rect x="180" y="586" width="1" height="87" fill="#c0c0c0"/>
<rect x="188" y="596" width="1" height="77" fill="#c0c0c0"/>
<rect x="196" y="606" width="1" height="67" fill="#c0c0c0"/>
<rect x="204" y="616" width="1" height="57" fill="#c0c0c0"/>
<rect x="212" y="623" width="1" height="50" fill="#c0c0c0"/>
<rect x="220" y="628" width="1" height="45" fill="#c0c0c0"/>
<rect x="228" y="637" width="1" height="36" fill="#c0c0c0"/>
<rect x="236" y="646" width="1" height="27" fill="#c0c0c0"/>
<rect x="244" y="654" width="1" height="19" fill="#c0c0c0"/>
<rect x="252" y="661" width="1" height="12" fill="#c0c0c0"/>
<rect x="260" y="669" width="1" height="4" fill="#c0c0c0"/>
<rect x="268" y="672" width="1" height="2" fill="#c0c0c0"/>
<rect x="276" y="672" width="1" height="11" fill="#c0c0c0"/>
<rect x="284" y="672" width="1" height="23" fill="#c0c0c0"/>
<rect x="292" y="672" width="1" height="29" fill="#c0c0c0"/>
<rect x="300" y="672" width="1" height="33" fill="#c0c0c0"/>
<rect x="308" y="672" width="1" height="36" fill="#c0c0c0"/>
<rect x="316" y="672" width="1" height="40" fill="#c0c0c0"/>
<rect x="324" y="672" width="1" height="35" fill="#c0c0c0"/>
<rect x="332" y="672" width="1" height="31" fill="#c0c0c0"/>
<rect x="340" y="672" width="1" height="29" fill="#c0c0c0"/>
<rect x="348" y="672" width="1" height="29" fill="#c0c0c0"/>
<rect x="356" y="672" width="1" height="26" fill="#c0c0c0"/>
<rect x="364" y="672" width="1" height="23" fill="#c0c0c0"/>
<rect x="372" y="672" width="1" height="24" fill="#c0c0c0"/>
<rect x="380" y="672" width="1" height="16" fill="#c0c0c0"/>
<rect x="388" y="672" width="1" height="17" fill="#c0c0c0"/>
<rect x="396" y="672" width="1" height="20" fill="#c0c0c0"/>
<rect x="404" y="672" width="1" height="23" fill="#c0c0c0"/>
<rect x="412" y="672" width="1" height="29" fill="#c0c0c0"/>
<rect x="420" y="672" width="1" height="36" fill="#c0c0c0"/>
<rect x="428" y="672" width="1" height="42" fill="#c0c0c0"/>
<rect x="436" y="672" width="1" height="45" fill="#c0c0c0"/>
<rect x="444" y="672" width="1" height="48" fill="#c0c0c0"/>
<rect x="452" y="672" width="1" height="49" fill="#c0c0c0"/>
<rect x="460" y="672" width="1" height="52" fill="#c0c0c0"/>
<rect x="468" y="672" width="1" height="64" fill="#c0c0c0"/>
<rect x="476" y="672" width="1" height="76" fill="#c0c0c0"/>
<rect x="484" y="672" width="1" height="81" fill="#c0c0c0"/>
<rect x="492" y="672" width="1" height="84" fill="#c0c0c0"/>
<rect x="500" y="672" width="1" height="87" fill="#c0c0c0"/>
<rect x="508" y="672" width="1" height="87" fill="#c0c0c0"/>
<rect x="516" y="672" width="1" height="93" fill="#c0c0c0"/>
<rect x="524" y="672" width="1" height="90" fill="#c0c0c0"/>
<rect x="532" y="672" width="1" height="80" fill="#c0c0c0"/>
<rect x="540" y="672" width="1" height="73" fill="#c0c0c0"/>
<rect x="548" y="672" width="1" height="67" fill="#c0c0c0"/>
<rect x="556" y="672" width="1" height="63" fill="#c0c0c0"/>
<rect x="564" y="672" width="1" height="57" fill="#c0c0c0"/>
<rect x="572" y="672" width="1" height="52" fill="#c0c0c0"/>
<rect x="580" y="672" width="1" height="55" fill="#c0c0c0"/>
<rect x="588" y="672" width="1" height="57" fill="#c0c0c0"/>
<rect x="596" y="672" width="1" height="63" fill="#c0c0c0"/>
<rect x="604" y="672" width="1" height="72" fill="#c0c0c0"/>
<rect x="612" y="672" width="1" height="82" fill="#c0c0c0"/>
<rect x="620" y="672" width="1" height="88" fill="#c0c0c0"/>
<rect x="628" y="672" width="1" height="96" fill="#c0c0c0"/>
<rect x="636" y="672" width="1" height="98" fill="#c0c0c0"/>
<rect x="644" y="672" width="1" height="96" fill="#c0c0c0"/>
<rect x="652" y="672" width="1" height="96" fill="#c0c0c0"/>
<rect x="660" y="672" width="1" height="94" fill="#c0c0c0"/>
<rect x="668" y="672" width="1" height="87" fill="#c0c0c0"/>
<rect x="676" y="672" width="1" height="86" fill="#c0c0c0"/>
<rect x="684" y="672" width="1" height="81" fill="#c0c0c0"/>
<rect x="692" y="672" width="1" height="75" fill="#c0c0c0"/>
<rect x="700" y="672" width="1" height="65" fill="#c0c0c0"/>
<rect x="708" y="672" width="1" height="62" fill="#c0c0c0"/>
<rect x="716" y="672" width="1" height="57" fill="#c0c0c0"/>
<rect x="724" y="672" width="1" height="45" fill="#c0c0c0"/>
<rect x="732" y="672" width="1" height="37" fill="#c0c0c0"/>
<rect x="740" y="672" width="1" height="31" fill="#c0c0c0"/>
<rect x="748" y="672" width="1" height="20" fill="#c0c0c0"/>
<rect x="756" y="672" width="1" height="8" fill="#c0c0c0"/>
<rect x="764" y="669" width="1" height="4" fill="#c0c0c0"/>
<rect x="772" y="658" width="1" height="15" fill="#c0c0c0"/>
<rect x="780" y="648" width="1" height="25" fill="#c0c0c0"/>
<rect x="788" y="642" width="1" height="31" fill="#c0c0c0"/>
<rect x="796" y="634" width="1" height="39" fill="#c0c0c0"/>
<rect x="804" y="624" width="1" height="49" fill="#c0c0c0"/>
<rect x="812" y="616" width="1" height="57" fill="#c0c0c0"/>
<rect x="820" y="607" width="1" height="66" fill="#c0c0c0"/>
<rect x="828" y="604" width="1" height="69" fill="#c0c0c0"/>
<rect x="836" y="603" width="1" height="70" fill="#c0c0c0"/>
<rect x="844" y="604" width="1" height="69" fill="#c0c0c0"/>
<rect x="852" y="604" width="1" height="69" fill="#c0c0c0"/>
<rect x="860" y="597" width="1" height="76" fill="#c0c0c0"/>
<rect x="868" y="597" width="1" height="76" fill="#c0c0c0"/>
<rect x="876" y="595" width="1" height="78" fill="#c0c0c0"/>
<rect x="884" y="593" width="1" height="80" fill="#c0c0c0"/>
<rect x="892" y="597" width="1" height="76" fill="#c0c0c0"/>
<rect x="900" y="603" width="1" height="70" fill="#c0c0c0"/>
<rect x="908" y="615" width="1" height="58" fill="#c0c0c0"/>
<rect x="916" y="626" width="1" height="47" fill="#c0c0c0"/>
<rect x="924" y="634" width="1" height="39" fill="#c0c0c0"/>
<rect x="932" y="643" width="1" height="30" fill="#c0c0c0"/>
<rect x="940" y="647" width="1" height="26" fill="#c0c0c0"/>
<rect x="948" y="655" width="1" height="18" fill="#c0c0c0"/>
<rect x="956" y="659" width="1" height="14" fill="#c0c0c0"/>
<rect x="964" y="661" width="1" height="12" fill="#c0c0c0"/>
<rect x="972" y="663" width="1" height="10" fill="#c0c0c0"/>
<rect x="980" y="664" width="1" height="9" fill="#c0c0c0"/>
<rect x="988" y="668" width="1" height="5" fill="#c0c0c0"/>
<rect x="996" y="667" width="1" height="6" fill="#c0c0c0"/>
<rect x="1004" y="664" width="1" height="9" fill="#c0c0c0"/>
<rect x="1012" y="665" width="1" height="8" fill="#c0c0c0"/>
<rect x="1020" y="664" width="1" height="9" fill="#c0c0c0"/>
<rect x="1028" y="663" width="1" height="10" fill="#c0c0c0"/>
<rect x="1036" y="661" width="1" height="12" fill="#c0c0c0"/>
<rect x="1044" y="657" width="1" height="16" fill="#c0c0c0"/>
<rect x="1052" y="659" width="1" height="14" fill="#c0c0c0"/>
<rect x="1060" y="662" width="1" height="11" fill="#c0c0c0"/>
<rect x="1068" y="666" width="1" height="7" fill="#c0c0c0"/>
<rect x="1076" y="669" width="1" height="4" fill="#c0c0c0"/>
<rect x="1084" y="668" width="1" height="5" fill="#c0c0c0"/>
<rect x="1092" y="664" width="1" height="9" fill="#c0c0c0"/>
<rect x="1100" y="653" width="1" height="20" fill="#c0c0c0"/>
<rect x="1108" y="652" width="1" height="21" fill="#c0c0c0"/>
<rect x="1116" y="656" width="1" height="17" fill="#c0c0c0"/>
<rect x="1124" y="661" width="1" height="12" fill="#c0c0c0"/>
<rect x="1132" y="665" width="1" height="8" fill="#c0c0c0"/>
<rect x="1140" y="664" width="1" height="9" fill="#c0c0c0"/>
<rect x="1148" y="656" width="1" height="17" fill="#c0c0c0"/>
<rect x="1156" y="659" width="1" height="14" fill="#c0c0c0"/>
<rect x="1164" y="659" width="1" height="14" fill="#c0c0c0"/>
<rect x="1172" y="664" width="1" height="9" fill="#c0c0c0"/>
<rect x="1180" y="668" width="1" height="5" fill="#c0c0c0"/>
<rect x="1188" y="672" width="1" height="4" fill="#c0c0c0"/>
<rect x="1196" y="672" width="1" height="10" fill="#c0c0c0"/>
<rect x="1204" y="672" width="1" height="13" fill="#c0c0c0"/>
<rect x="1212" y="672" width="1" height="13" fill="#c0c0c0"/>
<rect x="1220" y="672" width="1" height="13" fill="#c0c0c0"/>
<rect x="1228" y="672" width="1" height="13" fill="#c0c0c0"/>
<rect x="1236" y="672" width="1" height="12" fill="#c0c0c0"/>
<rect x="1244" y="672" width="1" height="14" fill="#c0c0c0"/>
<rect x="1252" y="672" width="1" height="13" fill="#c0c0c0"/>
<rect x="1260" y="672" width="1" height="11" fill="#c0c0c0"/>
<rect x="1268" y="672" width="1" height="10" fill="#c0c0c0"/>
<rect x="1276" y="672" width="1" height="5" fill="#c0c0c0"/>
<rect x="1284" y="672" width="1" height="2" fill="#c0c0c0"/>
<rect x="1292" y="667" width="1" height="6" fill="#c0c0c0"/>
<rect x="1300" y="658" width="1" height="15" fill="#c0c0c0"/>
<rect x="1308" y="655" width="1" height="18" fill="#c0c0c0"/>
<rect x="1316" y="656" width="1" height="17" fill="#c0c0c0"/>
<rect x="1324" y="651" width="1" height="22" fill="#c0c0c0"/>
<rect x="1332" y="645" width="1" height="28" fill="#c0c0c0"/>
<rect x="1340" y="639" width="1" height="34" fill="#c0c0c0"/>
<rect x="1348" y="634" width="1" height="39" fill="#c0c0c0"/>
<rect x="1356" y="632" width="1" height="41" fill="#c0c0c0"/>
<rect x="1364" y="631" width="1" height="42" fill="#c0c0c0"/>
<rect x="1372" y="629" width="1" height="44" fill="#c0c0c0"/>
<rect x="1380" y="629" width="1" height="44" fill="#c0c0c0"/>
<rect x="1388" y="636" width="1" height="37" fill="#c0c0c0"/>
<rect x="1396" y="637" width="1" height="36" fill="#c0c0c0"/>
<rect x="1404" y="640" width="1" height="33" fill="#c0c0c0"/>
<rect x="1412" y="639" width="1" height="34" fill="#c0c0c0"/>
<rect x="1420" y="638" width="1" height="35" fill="#c0c0c0"/>
<rect x="1428" y="638" width="1" height="35" fill="#c0c0c0"/>
<rect x="1436" y="641" width="1" height="32" fill="#c0c0c0"/>
<rect x="1444" y="643" width="1" height="30" fill="#c0c0c0"/>
<rect x="1452" y="646" width="1" height="27" fill="#c0c0c0"/>
</g>
<g clip-path="url(#c2)">
<path d="M-1,634.5 L0,634.1 L1,633.8 L2,633.4 M5,632.4 L6,632.0 L7,631.6 L8,631.3 M11,631.1 L12,631.1 L13,631.0 L14,631.0 M17,630.8 L18,630.7 L19,630.7 L20,630.6 M23,630.6 L24,630.6 L25,630.6 L26,630.6 M29,630.6 L30,630.6 L31,630.6 L32,630.6 M35,630.6 L36,630.6 L37,630.7 L38,630.7 M41,630.9 L42,631.0 L43,631.0 L44,631.1 M47,631.3 L48,631.4 L49,631.4 L50,631.5 M53,631.5 L54,631.4 L55,631.3 L56,631.2 M59,630.9 L60,630.8 L61,630.6 L62,630.5 M65,630.2 L66,630.1 L67,630.0 L68,629.9 M71,629.2 L72,628.9 L73,628.7 L74,628.4 M77,627.7 L78,627.5 L79,627.2 L80,627.0 M83,626.2 L84,626.0 L85,625.6 L86,625.2 M89,624.1 L90,623.7 L91,623.3 L92,622.9 M95,621.4 L96,621.0 L97,620.5 L98,620.0 M101,618.4 L102,617.8 L103,617.2 L104,616.6 M107,614.9 L108,614.3 L109,613.7 L110,613.1 M113,611.4 L114,610.8 L115,610.2 L116,609.6 M119,607.7 L120,607.0 L121,606.4 L122,605.8 M125,603.7 L126,602.9 L127,602.0 L128,601.2 M131,598.7 L132,597.9 L133,597.3 L134,596.7 M137,595.0 L138,594.4 L139,593.8 L140,593.2 M143,591.3 L144,590.7 L145,590.0 L146,589.4 M149,587.6 L150,587.0 L151,586.5 L152,586.0 M155,584.4 L156,583.9 L157,583.5 L158,583.1 M161,582.0 L162,581.6 L163,581.2 L164,580.8 M167,580.0 L168,579.8 L169,579.5 L170,579.2 M173,578.7 L174,578.7 L175,578.6 L176,578.6 M179,578.5 L180,578.5 L181,578.6 L182,578.8 M185,579.2 L186,579.4 L187,579.6 L188,579.7 M191,580.8 L192,581.2 L193,581.6 L194,582.0 M197,583.3 L198,583.9 L199,584.5 L200,585.0 M203,586.8 L204,587.4 L205,588.0 L206,588.6 M209,590.3 L210,590.9 L211,591.5 L212,592.1 M215,594.7 L216,595.6 L217,596.5 L218,597.4 M221,599.8 L222,600.5 L223,601.3 L224,602.0 M227,604.2 L228,604.9 L229,605.8 L230,606.6 M233,609.3 L234,610.1 L235,611.0 L236,611.9 M239,615.0 L240,616.0 L241,617.0 L242,618.0 M245,621.1 L246,622.1 L247,623.2 L248,624.2 M251,627.3 L252,628.3 L253,629.3 L254,630.3 M257,633.4 L258,634.5 L259,635.5 L260,636.5 M263,639.6 L264,640.6 L265,641.6 L266,642.7 M269,645.7 L270,646.8 L271,647.8 L272,648.8 M275,651.9 L276,652.9 L277,653.9 L278,654.9 M281,658.0 L282,659.0 L283,660.0 L284,661.0 M287,663.9 L288,664.9 L289,665.9 L290,666.8 M293,669.6 L294,670.4 L295,671.2 L296,672.0 M299,674.3 L300,675.1 L301,676.0 L302,676.9 M305,679.5 L306,680.4 L307,681.2 L308,682.1 M311,684.7 L312,685.6 L313,686.5 L314,687.4 M317,689.8 L318,690.5 L319,691.1 L320,691.8 M323,693.8 L324,694.5 L325,695.0 L326,695.5 M329,697.0 L330,697.5 L331,698.0 L332,698.5 M335,699.6 L336,700.0 L337,700.4 L338,700.8 M341,701.6 L342,701.8 L343,702.0 L344,702.1 M347,702.6 L348,702.7 L349,702.8 L350,702.9 M353,703.3 L354,703.4 L355,703.5 L356,703.6 M359,703.3 L360,703.2 L361,703.0 L362,702.9 M365,702.6 L366,702.5 L367,702.4 L368,702.4 M371,702.1 L372,702.0 L373,701.7 L374,701.4 M377,700.5 L378,700.2 L379,699.9 L380,699.6 M383,698.5 L384,698.2 L385,697.9 L386,697.5 M389,696.6 L390,696.5 L391,696.4 L392,696.2 M395,695.8 L396,695.6 L397,695.5 L398,695.4 M401,695.2 L402,695.1 L403,695.0 L404,694.9 M407,694.9 L408,694.9 L409,694.9 L410,694.9 M413,695.0 L414,695.2 L415,695.4 L416,695.5 M419,696.0 L420,696.1 L421,696.2 L422,696.3 M425,696.5 L426,696.6 L427,696.7 L428,696.8 M431,698.0 L432,698.5 L433,698.9 L434,699.3 M437,700.5 L438,700.9 L439,701.2 L440,701.6 M443,702.7 L444,703.1 L445,703.5 L446,703.8 M449,704.9 L450,705.2 L451,705.5 L452,705.9 M455,707.5 L456,708.0 L457,708.5 L458,709.0 M461,710.7 L462,711.3 L463,711.9 L464,712.5 M467,714.2 L468,714.8 L469,715.4 L470,716.1 M473,718.0 L474,718.7 L475,719.4 L476,720.0 M479,722.6 L480,723.5 L481,724.4 L482,725.2 M485,727.7 L486,728.5 L487,729.2 L488,729.9 M491,732.1 L492,732.8 L493,733.4 L494,734.0 M497,735.7 L498,736.3 L499,736.9 L500,737.5 M503,739.3 L504,739.9 L505,740.4 L506,741.0 M509,742.8 L510,743.4 L511,743.9 L512,744.5 M515,746.2 L516,746.8 L517,747.2 L518,747.7 M521,749.0 L522,749.5 L523,749.9 L524,750.4 M527,751.7 L528,752.1 L529,752.6 L530,753.0 M533,754.0 L534,754.1 L535,754.2 L536,754.3 M539,754.7 L540,754.8 L541,754.6 L542,754.5 M545,754.0 L546,753.9 L547,753.8 L548,753.6 M551,753.1 L552,752.9 L553,752.7 L554,752.6 M557,751.8 L558,751.3 L559,750.9 L560,750.5 M563,749.1 L564,748.7 L565,748.4 L566,748.0 M569,747.0 L570,746.6 L571,746.2 L572,745.9 M575,744.1 L576,743.5 L577,743.0 L578,742.4 M581,740.8 L582,740.5 L583,740.1 L584,739.7 M587,738.6 L588,738.2 L589,737.9 L590,737.6 M593,736.8 L594,736.5 L595,736.2 L596,735.9 M599,735.2 L600,735.0 L601,734.7 L602,734.5 M605,734.1 L606,734.2 L607,734.3 L608,734.5 M611,734.8 L612,734.9 L613,735.2 L614,735.5 M617,736.5 L618,736.9 L619,737.2 L620,737.5 M623,738.8 L624,739.2 L625,739.7 L626,740.1 M629,741.6 L630,742.2 L631,742.8 L632,743.5 M635,745.3 L636,745.9 L637,746.5 L638,747.0 M641,748.7 L642,749.3 L643,749.8 L644,750.4 M647,752.0 L648,752.5 L649,753.0 L650,753.5 M653,755.1 L654,755.6 L655,756.1 L656,756.5 M659,758.0 L660,758.5 L661,758.9 L662,759.3 M665,760.4 L666,760.8 L667,761.2 L668,761.6 M671,762.1 L672,762.3 L673,762.5 L674,762.6 M677,763.0 L678,763.0 L679,763.0 L680,763.0 M683,763.0 L684,763.0 L685,762.9 L686,762.8 M689,762.4 L690,762.2 L691,762.1 L692,762.0 M695,761.0 L696,760.6 L697,760.2 L698,759.9 M701,758.7 L702,758.2 L703,757.6 L704,757.1 M707,755.5 L708,755.0 L709,754.4 L710,753.9 M713,752.1 L714,751.5 L715,751.0 L716,750.4 M719,748.2 L720,747.5 L721,746.7 L722,746.0 M725,743.6 L726,742.6 L727,741.7 L728,740.8 M731,737.9 L732,737.0 L733,736.3 L734,735.5 M737,733.4 L738,732.7 L739,731.9 L740,731.2 M743,728.6 L744,727.7 L745,726.8 L746,726.0 M749,723.3 L750,722.5 L751,721.6 L752,720.7 M755,718.1 L756,717.2 L757,716.2 L758,715.2 M761,712.3 L762,711.4 L763,710.4 L764,709.4 M767,705.7 L768,704.5 L769,703.3 L770,702.0 M773,698.4 L774,697.1 L775,695.9 L776,694.7 M779,691.0 L780,689.8 L781,688.6 L782,687.4 M785,683.9 L786,682.8 L787,681.6 L788,680.4 M791,676.6 L792,675.4 L793,674.1 L794,672.9 M797,669.1 L798,667.8 L799,666.5 L800,665.1 M803,661.2 L804,659.9 L805,658.8 L806,657.7 M809,654.5 L810,653.4 L811,652.3 L812,651.2 M815,647.9 L816,646.8 L817,645.6 L818,644.5 M821,641.3 L822,640.2 L823,639.2 L824,638.2 M827,635.1 L828,634.1 L829,633.2 L830,632.2 M833,629.5 L834,628.6 L835,627.6 L836,626.7 M839,624.5 L840,623.8 L841,623.0 L842,622.3 M845,620.1 L846,619.4 L847,618.8 L848,618.1 M851,616.1 L852,615.4 L853,614.8 L854,614.2 M857,612.5 L858,611.9 L859,611.4 L860,610.8 M863,609.3 L864,608.8 L865,608.3 L866,607.8 M869,606.3 L870,605.8 L871,605.2 L872,604.7 M875,603.1 L876,602.6 L877,602.2 L878,601.9 M881,600.9 L882,600.5 L883,600.1 L884,599.8 M887,599.4 L888,599.2 L889,599.0 L890,598.9 M893,598.7 L894,598.7 L895,598.8 L896,598.9 M899,599.0 L900,599.1 L901,599.2 L902,599.3 M905,599.5 L906,599.6 L907,599.7 L908,599.8 M911,600.9 L912,601.2 L913,601.5 L914,601.9 M917,603.0 L918,603.4 L919,603.7 L920,604.1 M923,605.2 L924,605.6 L925,606.2 L926,606.7 M929,608.4 L930,609.0 L931,609.5 L932,610.1 M935,612.5 L936,613.4 L937,614.2 L938,615.0 M941,617.4 L942,618.2 L943,619.1 L944,619.9 M947,622.4 L948,623.2 L949,624.0 L950,624.9 M953,627.4 L954,628.2 L955,629.1 L956,629.9 M959,632.8 L960,633.8 L961,634.8 L962,635.8 M965,638.6 L966,639.5 L967,640.3 L968,641.2 M971,643.8 L972,644.7 L973,645.3 L974,646.0 M977,647.9 L978,648.5 L979,649.2 L980,649.8 M983,651.6 L984,652.2 L985,652.9 L986,653.5 M989,655.1 L990,655.4 L991,655.8 L992,656.1 M995,657.1 L996,657.5 L997,657.9 L998,658.4 M1001,659.7 L1002,660.1 L1003,660.6 L1004,661.0 M1007,661.6 L1008,661.9 L1009,662.1 L1010,662.3 M1013,662.8 L1014,662.9 L1015,663.0 L1016,663.2 M1019,663.5 L1020,663.6 L1021,663.6 L1022,663.6 M1025,663.6 L1026,663.6 L1027,663.6 L1028,663.6 M1031,663.6 L1032,663.6 L1033,663.6 L1034,663.6 M1037,663.6 L1038,663.6 L1039,663.6 L1040,663.6 M1043,663.6 L1044,663.6 L1045,663.5 L1046,663.4 M1049,663.0 L1050,662.9 L1051,662.8 L1052,662.7 M1055,662.4 L1056,662.4 L1057,662.3 L1058,662.2 M1061,662.0 L1062,662.0 L1063,662.0 L1064,662.0 M1067,662.0 L1068,662.0 L1069,662.1 L1070,662.2 M1073,662.4 L1074,662.5 L1075,662.6 L1076,662.7 M1079,662.8 L1080,662.8 L1081,662.8 L1082,662.9 M1085,662.9 L1086,662.9 L1087,662.9 L1088,662.9 M1091,662.9 L1092,662.9 L1093,662.7 L1094,662.5 M1097,662.0 L1098,661.9 L1099,661.7 L1100,661.5 M1103,661.2 L1104,661.0 L1105,660.9 L1106,660.8 M1109,660.6 L1110,660.6 L1111,660.6 L1112,660.6 M1115,660.6 L1116,660.6 L1117,660.6 L1118,660.7 M1121,660.9 L1122,660.9 L1123,661.0 L1124,661.0 M1127,661.0 L1128,661.0 L1129,661.0 L1130,661.0 M1133,661.0 L1134,661.0 L1135,661.0 L1136,661.0 M1139,661.0 L1140,661.0 L1141,660.9 L1142,660.7 M1145,660.3 L1146,660.2 L1147,660.0 L1148,659.9 M1151,659.6 L1152,659.5 L1153,659.5 L1154,659.4 M1157,659.1 L1158,659.0 L1159,658.8 L1160,658.7 M1163,658.3 L1164,658.2 L1165,658.3 L1166,658.5 M1169,658.8 L1170,659.0 L1171,659.1 L1172,659.2 M1175,659.6 L1176,659.8 L1177,659.9 L1178,660.0 M1181,660.7 L1182,661.1 L1183,661.5 L1184,661.8 M1187,663.0 L1188,663.4 L1189,663.8 L1190,664.1 M1193,665.1 L1194,665.5 L1195,665.9 L1196,666.2 M1199,666.7 L1200,666.9 L1201,667.1 L1202,667.2 M1205,667.9 L1206,668.2 L1207,668.5 L1208,668.8 M1211,669.6 L1212,669.9 L1213,670.3 L1214,670.8 M1217,672.1 L1218,672.5 L1219,673.0 L1220,673.4 M1223,674.6 L1224,675.0 L1225,675.5 L1226,675.9 M1229,677.0 L1230,677.4 L1231,677.7 L1232,678.0 M1235,679.0 L1236,679.3 L1237,679.7 L1238,680.1 M1241,681.3 L1242,681.7 L1243,682.1 L1244,682.5 M1247,682.9 L1248,683.0 L1249,683.1 L1250,683.2 M1253,683.5 L1254,683.5 L1255,683.5 L1256,683.5 M1259,683.5 L1260,683.5 L1261,683.5 L1262,683.5 M1265,683.4 L1266,683.3 L1267,683.3 L1268,683.3 M1271,683.1 L1272,683.0 L1273,683.0 L1274,682.9 M1277,682.6 L1278,682.4 L1279,682.3 L1280,682.1 M1283,681.6 L1284,681.4 L1285,681.1 L1286,680.9 M1289,680.1 L1290,679.8 L1291,679.6 L1292,679.3 M1295,678.6 L1296,678.3 L1297,678.1 L1298,677.9 M1301,677.0 L1302,676.5 L1303,676.1 L1304,675.6 M1307,674.3 L1308,673.9 L1309,673.5 L1310,673.0 M1313,671.7 L1314,671.3 L1315,670.8 L1316,670.4 M1319,668.8 L1320,668.3 L1321,667.8 L1322,667.2 M1325,665.8 L1326,665.3 L1327,664.9 L1328,664.5 M1331,663.1 L1332,662.7 L1333,662.2 L1334,661.7 M1337,660.2 L1338,659.7 L1339,659.2 L1340,658.7 M1343,656.8 L1344,656.2 L1345,655.5 L1346,654.9 M1349,653.0 L1350,652.4 L1351,651.8 L1352,651.2 M1355,649.5 L1356,648.9 L1357,648.4 L1358,647.9 M1361,646.3 L1362,645.8 L1363,645.2 L1364,644.7 M1367,643.4 L1368,643.0 L1369,642.5 L1370,642.1 M1373,640.8 L1374,640.3 L1375,639.9 L1376,639.5 M1379,638.1 L1380,637.7 L1381,637.4 L1382,637.1 M1385,636.2 L1386,635.9 L1387,635.6 L1388,635.3 M1391,635.0 L1392,634.8 L1393,634.7 L1394,634.6 M1397,634.3 L1398,634.3 L1399,634.2 L1400,634.1 M1403,634.0 L1404,633.9 L1405,633.9 L1406,634.0 M1409,634.0 L1410,634.0 L1411,634.1 L1412,634.1 M1415,634.4 L1416,634.5 L1417,634.6 L1418,634.7 M1421,635.0 L1422,635.1 L1423,635.2 L1424,635.3 M1427,635.7 L1428,635.8 L1429,635.9 L1430,636.0 M1433,636.4 L1434,636.5 L1435,636.6 L1436,636.7 M1439,637.2 L1440,637.4 L1441,637.6 L1442,637.8 M1445,638.3 L1446,638.6 L1447,638.8 L1448,639.0 M1451,639.8 L1452,640.0" fill="none" stroke="#ff0000" stroke-width="1" shape-rendering="crispEdges"/>
<line x1="1382" y1="633.6" x2="1454.9" y2="648.2" stroke="#ff0000" stroke-width="3.4" stroke-linecap="round"/>
<polygon points="1462.0,649.6 1452.4,652.0 1454.9,648.2 1454.0,643.7" fill="#ff0000"/>
</g>
<text x="-7.6" y="573.2" font-size="10" fill="#000" stroke="#000" stroke-width="0.12" textLength="147.9" lengthAdjust="spacingAndGlyphs" >MACD(12,26,9) 0.001193 0.001490</text>
<g clip-path="url(#c3)">
<line x1="0" y1="811.5" x2="1647" y2="811.5" stroke="#c0c0c0" stroke-width="1" stroke-dasharray="3,3" shape-rendering="crispEdges"/>
<line x1="0" y1="853.5" x2="1647" y2="853.5" stroke="#c0c0c0" stroke-width="1" stroke-dasharray="3,3" shape-rendering="crispEdges"/>
<line x1="0" y1="902.5" x2="1647" y2="902.5" stroke="#c0c0c0" stroke-width="1" stroke-dasharray="3,3" shape-rendering="crispEdges"/>
<polyline points="-4,847.5 4,845.2 12,842.0 20,837.9 28,835.8 36,842.9 44,836.2 52,830.2 60,828.7 68,825.9 76,834.1 84,832.8 92,819.9 100,816.9 108,819.9 116,818.5 124,814.6 132,816.9 140,815.8 148,823.4 156,827.9 164,823.8 172,825.6 180,828.7 188,847.0 196,849.6 204,850.9 212,848.8 220,846.8 228,857.1 236,861.9 244,863.8 252,862.0 260,868.9 268,861.0 276,873.5 284,879.7 292,872.1 300,870.9 308,872.1 316,873.9 324,855.8 332,857.1 340,858.0 348,863.8 356,855.8 364,855.8 372,862.7 380,846.1 388,859.4 396,863.6 404,863.8 412,868.9 420,873.7 428,873.9 436,873.9 444,873.9 452,873.9 460,877.4 468,888.4 476,892.8 484,883.6 492,881.9 500,884.0 508,879.7 516,888.1 524,872.7 532,861.0 540,862.9 548,862.9 556,865.0 564,861.0 572,862.0 580,873.0 588,873.0 596,879.7 604,883.6 612,887.7 620,886.8 628,888.9 636,882.8 644,878.0 652,879.7 660,878.7 668,868.1 676,874.8 684,869.1 692,865.9 700,857.1 708,865.6 716,861.1 724,848.8 732,852.6 740,853.9 748,844.1 756,840.8 764,837.9 772,834.9 780,833.7 788,836.7 796,832.8 804,827.0 812,826.6 820,822.9 828,831.8 836,831.8 844,833.7 852,832.8 860,822.9 868,831.8 876,829.3 884,827.9 892,838.1 900,842.0 908,855.3 916,856.7 924,854.9 932,858.0 940,852.1 948,861.9 956,854.9 964,853.0 972,852.6 980,853.5 988,858.0 996,850.0 1004,846.8 1012,851.8 1020,849.6 1028,845.9 1036,847.9 1044,839.7 1052,852.6 1060,856.7 1068,858.0 1076,858.0 1084,852.6 1092,843.8 1100,831.0 1108,846.4 1116,853.5 1124,856.7 1132,858.0 1140,849.1 1148,839.7 1156,854.9 1164,849.6 1172,858.0 1180,857.1 1188,862.9 1196,862.9 1204,861.0 1212,857.1 1220,855.8 1228,858.0 1236,854.8 1244,861.0 1252,856.2 1260,853.9 1268,853.9 1276,848.2 1284,847.9 1292,841.7 1300,834.6 1308,842.9 1316,850.9 1324,841.1 1332,837.9 1340,834.9 1348,833.7 1356,837.6 1364,838.8 1372,835.8 1380,838.5 1388,853.0 1396,847.0 1404,850.9 1412,841.1 1420,839.7 1428,842.0 1436,847.7 1444,848.8 1452,850.9" fill="none" stroke="#1e90ff" stroke-width="1" shape-rendering="crispEdges"/>
<line x1="1365.6" y1="836.5" x2="1488.8" y2="850.6" stroke="#ff0000" stroke-width="3.4" stroke-linecap="round"/>
<polygon points="1496.0,851.4 1486.6,854.6 1488.8,850.6 1487.5,846.2" fill="#ff0000"/>
</g>
<text x="-7.5" y="794" font-size="10" fill="#000" stroke="#000" stroke-width="0.12" textLength="68" lengthAdjust="spacingAndGlyphs" >RSI(14) 52.4636</text>
<g fill="#000" shape-rendering="crispEdges">
<rect x="0" y="23" width="1648" height="1" fill="#000"/>
<rect x="0" y="558" width="1648" height="1" fill="#000"/>
<rect x="0" y="560" width="1648" height="1" fill="#000"/>
<rect x="0" y="779" width="1648" height="1" fill="#000"/>
<rect x="0" y="781" width="1648" height="1" fill="#000"/>
<rect x="0" y="924" width="1648" height="1" fill="#000"/>
<rect x="1647" y="24" width="1" height="535" fill="#000"/>
<rect x="1647" y="560" width="1" height="220" fill="#000"/>
<rect x="1647" y="781" width="1" height="144" fill="#000"/>
</g>
<rect x="1648" y="27" width="2" height="1" fill="#000"/>
<text x="1653.5" y="30.7" font-size="10" fill="#000" stroke="#000" stroke-width="0.12" textLength="32.6" lengthAdjust="spacingAndGlyphs" >1.37660</text>
<rect x="1648" y="60" width="2" height="1" fill="#000"/>
<text x="1653.5" y="63.7" font-size="10" fill="#000" stroke="#000" stroke-width="0.12" textLength="32.6" lengthAdjust="spacingAndGlyphs" >1.37400</text>
<rect x="1648" y="93" width="2" height="1" fill="#000"/>
<text x="1653.5" y="96.7" font-size="10" fill="#000" stroke="#000" stroke-width="0.12" textLength="32.6" lengthAdjust="spacingAndGlyphs" >1.37135</text>
<rect x="1648" y="126" width="2" height="1" fill="#000"/>
<text x="1653.5" y="129.7" font-size="10" fill="#000" stroke="#000" stroke-width="0.12" textLength="32.6" lengthAdjust="spacingAndGlyphs" >1.36875</text>
<rect x="1648" y="159" width="2" height="1" fill="#000"/>
<text x="1653.5" y="162.7" font-size="10" fill="#000" stroke="#000" stroke-width="0.12" textLength="32.6" lengthAdjust="spacingAndGlyphs" >1.36615</text>
<rect x="1648" y="192" width="2" height="1" fill="#000"/>
<text x="1653.5" y="195.7" font-size="10" fill="#000" stroke="#000" stroke-width="0.12" textLength="32.6" lengthAdjust="spacingAndGlyphs" >1.36355</text>
<rect x="1648" y="225" width="2" height="1" fill="#000"/>
<text x="1653.5" y="228.7" font-size="10" fill="#000" stroke="#000" stroke-width="0.12" textLength="32.6" lengthAdjust="spacingAndGlyphs" >1.36095</text>
<rect x="1648" y="258" width="2" height="1" fill="#000"/>
<text x="1653.5" y="261.7" font-size="10" fill="#000" stroke="#000" stroke-width="0.12" textLength="32.6" lengthAdjust="spacingAndGlyphs" >1.35835</text>
<rect x="1648" y="291" width="2" height="1" fill="#000"/>
<text x="1653.5" y="294.7" font-size="10" fill="#000" stroke="#000" stroke-width="0.12" textLength="32.6" lengthAdjust="spacingAndGlyphs" >1.35575</text>
<rect x="1648" y="324" width="2" height="1" fill="#000"/>
<text x="1653.5" y="327.7" font-size="10" fill="#000" stroke="#000" stroke-width="0.12" textLength="32.6" lengthAdjust="spacingAndGlyphs" >1.35315</text>
<rect x="1648" y="357" width="2" height="1" fill="#000"/>
<text x="1653.5" y="360.7" font-size="10" fill="#000" stroke="#000" stroke-width="0.12" textLength="32.6" lengthAdjust="spacingAndGlyphs" >1.35050</text>
<rect x="1648" y="390" width="2" height="1" fill="#000"/>
<text x="1653.5" y="393.7" font-size="10" fill="#000" stroke="#000" stroke-width="0.12" textLength="32.6" lengthAdjust="spacingAndGlyphs" >1.34790</text>
<rect x="1648" y="423" width="2" height="1" fill="#000"/>
<text x="1653.5" y="426.7" font-size="10" fill="#000" stroke="#000" stroke-width="0.12" textLength="32.6" lengthAdjust="spacingAndGlyphs" >1.34530</text>
<rect x="1648" y="456" width="2" height="1" fill="#000"/>
<text x="1653.5" y="459.7" font-size="10" fill="#000" stroke="#000" stroke-width="0.12" textLength="32.6" lengthAdjust="spacingAndGlyphs" >1.34270</text>
<rect x="1648" y="489" width="2" height="1" fill="#000"/>
<text x="1653.5" y="492.7" font-size="10" fill="#000" stroke="#000" stroke-width="0.12" textLength="32.6" lengthAdjust="spacingAndGlyphs" >1.34010</text>
<rect x="1648" y="522" width="2" height="1" fill="#000"/>
<text x="1653.5" y="525.7" font-size="10" fill="#000" stroke="#000" stroke-width="0.12" textLength="32.6" lengthAdjust="spacingAndGlyphs" >1.33750</text>
<rect x="1648" y="555" width="2" height="1" fill="#000"/>
<text x="1653.5" y="558.7" font-size="10" fill="#000" stroke="#000" stroke-width="0.12" textLength="32.6" lengthAdjust="spacingAndGlyphs" >1.33490</text>
<rect x="1649" y="164" width="41" height="11" fill="#ff4500"/>
<text x="1653.5" y="173.7" font-size="10" fill="#fff" stroke="#fff" stroke-width="0.12" textLength="32.6" lengthAdjust="spacingAndGlyphs" >1.36529</text>
<rect x="1649" y="192" width="41" height="11" fill="#ff0000"/>
<text x="1653.5" y="201.7" font-size="10" fill="#fff" stroke="#fff" stroke-width="0.12" textLength="32.6" lengthAdjust="spacingAndGlyphs" >1.36308</text>
<rect x="1649" y="219" width="41" height="11" fill="#32cd32"/>
<text x="1653.5" y="228.7" font-size="10" fill="#fff" stroke="#fff" stroke-width="0.12" textLength="32.6" lengthAdjust="spacingAndGlyphs" >1.36095</text>
<rect x="1649" y="232" width="41" height="11" fill="#000"/>
<text x="1653.5" y="241.7" font-size="10" fill="#fff" stroke="#fff" stroke-width="0.12" textLength="32.6" lengthAdjust="spacingAndGlyphs" >1.36005</text>
<rect x="1649" y="257" width="41" height="11" fill="#0000ff"/>
<text x="1653.5" y="266.7" font-size="10" fill="#fff" stroke="#fff" stroke-width="0.12" textLength="32.6" lengthAdjust="spacingAndGlyphs" >1.35796</text>
<rect x="1649" y="283" width="41" height="11" fill="#0000ff"/>
<text x="1653.5" y="292.7" font-size="10" fill="#fff" stroke="#fff" stroke-width="0.12" textLength="32.6" lengthAdjust="spacingAndGlyphs" >1.35591</text>
<rect x="1648" y="562" width="1" height="1" fill="#000"/>
<text x="1651.3" y="571" font-size="10" fill="#000" stroke="#000" stroke-width="0.12" textLength="37.5" lengthAdjust="spacingAndGlyphs" >0.005014</text>
<rect x="1648" y="672" width="2" height="1" fill="#000"/>
<text x="1653.5" y="676" font-size="10" fill="#000" stroke="#000" stroke-width="0.12" textLength="17.5" lengthAdjust="spacingAndGlyphs" >0.00</text>
<rect x="1648" y="778" width="1" height="1" fill="#000"/>
<text x="1651.3" y="775.8" font-size="10" fill="#000" stroke="#000" stroke-width="0.12" textLength="40.5" lengthAdjust="spacingAndGlyphs" >-0.004812</text>
<text x="1651.3" y="791.7" font-size="10" fill="#000" stroke="#000" stroke-width="0.12" textLength="14.7" lengthAdjust="spacingAndGlyphs" >100</text>
<text x="1651.3" y="814.8" font-size="10" fill="#000" stroke="#000" stroke-width="0.12" textLength="9.8" lengthAdjust="spacingAndGlyphs" >80</text>
<text x="1651.3" y="856.5" font-size="10" fill="#000" stroke="#000" stroke-width="0.12" textLength="9.8" lengthAdjust="spacingAndGlyphs" >50</text>
<text x="1651.3" y="905.6" font-size="10" fill="#000" stroke="#000" stroke-width="0.12" textLength="9.8" lengthAdjust="spacingAndGlyphs" >15</text>
<text x="1651.3" y="920.6" font-size="10" fill="#000" stroke="#000" stroke-width="0.12" textLength="4.9" lengthAdjust="spacingAndGlyphs" >0</text>
<rect x="1648" y="811" width="1" height="1" fill="#000"/>
<rect x="1648" y="853" width="1" height="1" fill="#000"/>
<rect x="1648" y="902" width="1" height="1" fill="#000"/>
<rect x="1648" y="924" width="1" height="1" fill="#000"/>
<rect x="-12" y="925" width="1" height="3" fill="#000"/>
<text x="-12.6" y="937" font-size="10" fill="#000" stroke="#000" stroke-width="0.12" textLength="50.1" lengthAdjust="spacingAndGlyphs" >10 Jan 2022</text>
<rect x="52" y="925" width="1" height="3" fill="#000"/>
<text x="51.4" y="937" font-size="10" fill="#000" stroke="#000" stroke-width="0.12" textLength="51.9" lengthAdjust="spacingAndGlyphs" >11 Jan 16:00</text>
<rect x="116" y="925" width="1" height="3" fill="#000"/>
<text x="115.4" y="937" font-size="10" fill="#000" stroke="#000" stroke-width="0.12" textLength="52.6" lengthAdjust="spacingAndGlyphs" >13 Jan 00:00</text>
<rect x="180" y="925" width="1" height="3" fill="#000"/>
<text x="179.4" y="937" font-size="10" fill="#000" stroke="#000" stroke-width="0.12" textLength="52.6" lengthAdjust="spacingAndGlyphs" >14 Jan 08:00</text>
<rect x="244" y="925" width="1" height="3" fill="#000"/>
<text x="243.4" y="937" font-size="10" fill="#000" stroke="#000" stroke-width="0.12" textLength="52.6" lengthAdjust="spacingAndGlyphs" >17 Jan 16:00</text>
<rect x="308" y="925" width="1" height="3" fill="#000"/>
<text x="307.4" y="937" font-size="10" fill="#000" stroke="#000" stroke-width="0.12" textLength="52.6" lengthAdjust="spacingAndGlyphs" >19 Jan 00:00</text>
<rect x="372" y="925" width="1" height="3" fill="#000"/>
<text x="371.4" y="937" font-size="10" fill="#000" stroke="#000" stroke-width="0.12" textLength="52.6" lengthAdjust="spacingAndGlyphs" >20 Jan 08:00</text>
<rect x="436" y="925" width="1" height="3" fill="#000"/>
<text x="435.4" y="937" font-size="10" fill="#000" stroke="#000" stroke-width="0.12" textLength="52.6" lengthAdjust="spacingAndGlyphs" >21 Jan 16:00</text>
<rect x="500" y="925" width="1" height="3" fill="#000"/>
<text x="499.4" y="937" font-size="10" fill="#000" stroke="#000" stroke-width="0.12" textLength="52.6" lengthAdjust="spacingAndGlyphs" >25 Jan 00:00</text>
<rect x="564" y="925" width="1" height="3" fill="#000"/>
<text x="563.4" y="937" font-size="10" fill="#000" stroke="#000" stroke-width="0.12" textLength="52.6" lengthAdjust="spacingAndGlyphs" >26 Jan 08:00</text>
<rect x="628" y="925" width="1" height="3" fill="#000"/>
<text x="627.4" y="937" font-size="10" fill="#000" stroke="#000" stroke-width="0.12" textLength="52.6" lengthAdjust="spacingAndGlyphs" >27 Jan 16:00</text>
<rect x="692" y="925" width="1" height="3" fill="#000"/>
<text x="691.4" y="937" font-size="10" fill="#000" stroke="#000" stroke-width="0.12" textLength="52.6" lengthAdjust="spacingAndGlyphs" >31 Jan 00:00</text>
<rect x="756" y="925" width="1" height="3" fill="#000"/>
<text x="755.4" y="937" font-size="10" fill="#000" stroke="#000" stroke-width="0.12" textLength="48.6" lengthAdjust="spacingAndGlyphs" >1 Feb 08:00</text>
<rect x="820" y="925" width="1" height="3" fill="#000"/>
<text x="819.4" y="937" font-size="10" fill="#000" stroke="#000" stroke-width="0.12" textLength="48.6" lengthAdjust="spacingAndGlyphs" >2 Feb 16:00</text>
<rect x="884" y="925" width="1" height="3" fill="#000"/>
<text x="883.4" y="937" font-size="10" fill="#000" stroke="#000" stroke-width="0.12" textLength="48.6" lengthAdjust="spacingAndGlyphs" >4 Feb 00:00</text>
<rect x="948" y="925" width="1" height="3" fill="#000"/>
<text x="947.4" y="937" font-size="10" fill="#000" stroke="#000" stroke-width="0.12" textLength="48.6" lengthAdjust="spacingAndGlyphs" >7 Feb 08:00</text>
<rect x="1012" y="925" width="1" height="3" fill="#000"/>
<text x="1011.4" y="937" font-size="10" fill="#000" stroke="#000" stroke-width="0.12" textLength="48.6" lengthAdjust="spacingAndGlyphs" >8 Feb 16:00</text>
<rect x="1076" y="925" width="1" height="3" fill="#000"/>
<text x="1075.4" y="937" font-size="10" fill="#000" stroke="#000" stroke-width="0.12" textLength="53.6" lengthAdjust="spacingAndGlyphs" >10 Feb 00:00</text>
<rect x="1140" y="925" width="1" height="3" fill="#000"/>
<text x="1139.4" y="937" font-size="10" fill="#000" stroke="#000" stroke-width="0.12" textLength="53.0" lengthAdjust="spacingAndGlyphs" >11 Feb 08:00</text>
<rect x="1204" y="925" width="1" height="3" fill="#000"/>
<text x="1203.4" y="937" font-size="10" fill="#000" stroke="#000" stroke-width="0.12" textLength="53.6" lengthAdjust="spacingAndGlyphs" >14 Feb 16:00</text>
<rect x="1268" y="925" width="1" height="3" fill="#000"/>
<text x="1267.4" y="937" font-size="10" fill="#000" stroke="#000" stroke-width="0.12" textLength="53.6" lengthAdjust="spacingAndGlyphs" >16 Feb 00:00</text>
<rect x="1332" y="925" width="1" height="3" fill="#000"/>
<text x="1331.4" y="937" font-size="10" fill="#000" stroke="#000" stroke-width="0.12" textLength="53.6" lengthAdjust="spacingAndGlyphs" >17 Feb 08:00</text>
<rect x="1396" y="925" width="1" height="3" fill="#000"/>
<text x="1395.4" y="937" font-size="10" fill="#000" stroke="#000" stroke-width="0.12" textLength="53.6" lengthAdjust="spacingAndGlyphs" >18 Feb 16:00</text>
<rect x="1693" y="21" width="1" height="920" fill="#e4e4e4"/>
</svg>
<svg width="1694" height="24" viewBox="0 0 1694 24" style="position:absolute;left:0;top:0" font-family="Liberation Sans, sans-serif">
<defs><linearGradient id="gy" x1="0" y1="0" x2="1" y2="1"><stop offset="0" stop-color="#f7d774"/><stop offset="1" stop-color="#c8901c"/></linearGradient><linearGradient id="gb" x1="0" y1="0" x2="0" y2="1"><stop offset="0" stop-color="#5aa0e8"/><stop offset="1" stop-color="#1d5fc0"/></linearGradient><linearGradient id="gg" x1="0" y1="0" x2="0" y2="1"><stop offset="0" stop-color="#6fdc5a"/><stop offset="1" stop-color="#14a514"/></linearGradient><radialGradient id="gr" cx="0.4" cy="0.35" r="0.7"><stop offset="0" stop-color="#f0603a"/><stop offset="1" stop-color="#cc1f10"/></radialGradient><pattern id="dots" width="2" height="2" patternUnits="userSpaceOnUse"><rect width="2" height="2" fill="#f6f6f6"/><rect width="1" height="1" fill="#e9e9e9"/><rect x="1" y="1" width="1" height="1" fill="#e9e9e9"/></pattern></defs>
<rect x="0" y="0" width="1694" height="19" fill="#f0f0f0"/>
<rect x="0" y="19" width="1694" height="1" fill="#b4b4b4"/>
<rect x="0" y="20" width="1694" height="1" fill="#696969"/>
<rect x="0" y="21" width="1694" height="2" fill="#fff"/>
<rect x="0" y="13" width="1.5" height="2" fill="#d9a441"/>
<rect x="8" y="0" width="1" height="17" fill="#a0a0a0"/>
<path d="M18.5,-3 h8 l4,4 v11 h-12 z" fill="#fff" stroke="#8a8a8a" stroke-width="1"/>
<rect x="20.5" y="1" width="3" height="1.5" fill="#888"/><rect x="20.5" y="4" width="6" height="1" fill="#aaa"/><rect x="20.5" y="7" width="5" height="1" fill="#aaa"/>
<path d="M26.2,5.6 h3.6 v3.6 h3.6 v3.6 h-3.6 v3.6 h-3.6 v-3.6 h-3.6 v-3.6 h3.6 z" fill="url(#gg)" stroke="#11901a" stroke-width="0.6"/>
<text x="37.5" y="10" font-size="12.5" fill="#000" textLength="63.5" lengthAdjust="spacingAndGlyphs">New Order</text>
<path d="M119.500,-1 L113.800,9 L122,14.600 L129.800,8.400 L123,1.500 Z" fill="url(#gy)" stroke="#a8741a" stroke-width="0.9" stroke-linejoin="round"/>
<path d="M116.500,6 L121,1.500 L127,7.500 L121.500,11.500 Z" fill="#fbe060" opacity="0.85"/>
<path d="M122,14.600 L129.800,8.400 M123.500,13.200 L129.300,9.800" stroke="#8a5a10" stroke-width="0.9" fill="none"/>
<rect x="144.300" y="-2" width="10.500" height="11" rx="1" fill="#2a8cf0"/><rect x="149" y="0" width="5" height="6" fill="#58b0ff"/><rect x="149.800" y="2.300" width="3.400" height="1.100" fill="#e8f4ff"/><rect x="149.800" y="4.200" width="2.400" height="1" fill="#e8f4ff"/>
<path d="M144.800,14.600 a3,3 0 0 1 -0.300,-5.800 a3.600,3.600 0 0 1 6.500,-1.200 a3,3 0 0 1 4.300,2 a2.600,2.600 0 0 1 -0.300,5 z" fill="#f0f4fa" stroke="#5878b8" stroke-width="0.9"/>
<path d="M145,13 h11" stroke="#c8d4ec" stroke-width="1.200"/>
<circle cx="178" cy="6.500" r="7.600" fill="#eef2f8"/>
<g fill="none" stroke-width="1.500"><path d="M178,14.100 a7.600,7.600 0 0 1 0,-15.200" stroke="#9db6ea"/><path d="M178,-1.100 a7.600,7.600 0 0 1 0,15.200" stroke="#7cc47c"/><path d="M178,11.300 a4.800,4.800 0 0 1 0,-9.600" stroke="#5f86dc"/><path d="M178,1.700 a4.800,4.800 0 0 1 0,9.600" stroke="#8ecb8e"/></g>
<circle cx="178" cy="6.300" r="1.900" fill="#2a50c0"/><rect x="177.300" y="7" width="1.500" height="7.600" fill="#2aa83a"/>
<path d="M197.300,4.500 q1.500,-2 4.500,-2.500 q0.500,-3 3.200,-3.500 q2.800,0.500 3.300,3.500 q3,0.500 4.600,2.500 q-3,2.500 -7.800,2.500 q-4.800,0 -7.800,-2.500 z" fill="#58aee8" stroke="#3a86cc" stroke-width="0.6"/>
<path d="M198,6.800 q7,2.600 13.500,0 l-4.500,6.200 l-2.500,1.600 z" fill="#f8dc68" stroke="#c89a20" stroke-width="0.6"/><path d="M201,8.300 q3.500,1 7,0 l-3,4 z" fill="#fdf2b0"/>
<circle cx="209.300" cy="10.700" r="4" fill="#d82414"/><rect x="207.900" y="9.300" width="2.800" height="2.800" fill="#fff"/>
<text x="218.500" y="10.300" font-size="12.5" fill="#000" textLength="71" lengthAdjust="spacingAndGlyphs">AutoTrading</text>
<rect x="297" y="0" width="1" height="19" fill="#9a9a9a"/>
<rect x="301" y="1" width="3" height="1" fill="#a8a8a8"/>
<rect x="301" y="3" width="3" height="1" fill="#a8a8a8"/>
<rect x="301" y="5" width="3" height="1" fill="#a8a8a8"/>
<rect x="301" y="7" width="3" height="1" fill="#a8a8a8"/>
<rect x="301" y="9" width="3" height="1" fill="#a8a8a8"/>
<rect x="301" y="11" width="3" height="1" fill="#a8a8a8"/>
<rect x="301" y="13" width="3" height="1" fill="#a8a8a8"/>
<rect x="301" y="15" width="3" height="1" fill="#a8a8a8"/>
<g stroke="#4a4a4a" stroke-width="1.1" fill="none"><path d="M315.5,1.5 V15 M313,12.5 H326.5"/><path d="M313.8,3.5 L315.5,1 L317.2,3.5 M324.8,10.8 L327,12.5 L324.8,14.2"/></g>
<path d="M322.500,3 V10 M322.500,3.500 H325 M320,9.500 H322.500" stroke="#1f9a2a" stroke-width="1.3" fill="none"/>
<rect x="335" y="0" width="1" height="17" fill="#a0a0a0"/>
<rect x="336" y="0" width="25" height="17" fill="url(#dots)"/>
<g stroke="#4a4a4a" stroke-width="1.1" fill="none"><path d="M343.5,1.5 V15 M341,12.5 H354.5"/><path d="M341.8,3.5 L343.5,1 L345.2,3.5 M352.8,10.8 L355,12.5 L352.8,14.2"/></g>
<rect x="349.500" y="0.500" width="1" height="10.500" fill="#1f8a2a"/><rect x="347.500" y="1.500" width="4.500" height="7.500" fill="#39d04a" stroke="#1f8a2a" stroke-width="0.9"/>
<g stroke="#4a4a4a" stroke-width="1.1" fill="none"><path d="M371.5,1.5 V15 M369,12.5 H382.5"/><path d="M369.8,3.5 L371.5,1 L373.2,3.5 M380.8,10.8 L383,12.5 L380.8,14.2"/></g>
<path d="M371,10 Q374,5 376.500,4 Q379,4 382,8" stroke="#2aa038" stroke-width="1.2" fill="none"/>
<rect x="392" y="0" width="1" height="17" fill="#a0a0a0"/>
<path d="M410.5,8 L415.6,12.800" stroke="#c8a020" stroke-width="2.600" stroke-linecap="round"/>
<circle cx="407" cy="4.500" r="5.300" fill="#cfe4f8" stroke="#3a7ad0" stroke-width="1.100"/>
<rect x="404" y="3.800" width="6" height="1.500" fill="#2a64b8"/>
<rect x="406.25" y="1.500" width="1.500" height="6" fill="#2a64b8"/>
<path d="M438.5,8 L443.6,12.800" stroke="#c8a020" stroke-width="2.600" stroke-linecap="round"/>
<circle cx="435" cy="4.500" r="5.300" fill="#cfe4f8" stroke="#3a7ad0" stroke-width="1.100"/>
<rect x="432" y="3.800" width="6" height="1.500" fill="#2a64b8"/>
<rect x="457" y="-1" width="8" height="7.500" rx="1" fill="#4aa82a"/><rect x="466" y="-1" width="8" height="7.500" rx="1" fill="#2a5cd0"/><rect x="457" y="7.200" width="8" height="7.500" rx="1" fill="#2a5cd0"/><rect x="466" y="7.200" width="8" height="7.500" rx="1" fill="#4aa82a"/>
<rect x="458.5" y="2.5" width="5" height="2.500" fill="#e8f0e0"/>
<rect x="467.5" y="2.5" width="5" height="2.500" fill="#e8f0e0"/>
<rect x="458.5" y="10.7" width="5" height="2.500" fill="#e8f0e0"/>
<rect x="467.5" y="10.7" width="5" height="2.500" fill="#e8f0e0"/>
<rect x="482" y="0" width="1" height="17" fill="#a0a0a0"/>
<rect x="487" y="0" width="1" height="17" fill="#a0a0a0"/>
<rect x="488" y="0" width="24" height="17" fill="url(#dots)"/>
<g stroke="#4a4a4a" stroke-width="1.1" fill="none"><path d="M495.5,1.5 V15 M493,12.5 H506.5"/><path d="M493.8,3.5 L495.5,1 L497.2,3.5 M504.8,10.8 L507,12.5 L504.8,14.2"/></g>
<path d="M500.500,3 L504.500,6.500 L500.500,10 Z" fill="#8fe08a" stroke="#1f9a2a" stroke-width="1"/>
<rect x="515" y="0" width="1" height="17" fill="#a0a0a0"/>
<rect x="516" y="0" width="24" height="17" fill="url(#dots)"/>
<g stroke="#4a4a4a" stroke-width="1.1" fill="none"><path d="M523.5,1.5 V15 M521,12.5 H534.5"/><path d="M521.8,3.5 L523.5,1 L525.2,3.5 M532.8,10.8 L535,12.5 L532.8,14.2"/></g>
<rect x="529" y="1" width="1.200" height="9.500" fill="#1f6fa8"/><path d="M535,6.500 H531 M533,4.500 L530.800,6.500 L533,8.500" stroke="#e04a10" stroke-width="1.200" fill="none"/>
<rect x="544" y="0" width="1" height="17" fill="#a0a0a0"/>
<path d="M554.5,-3 h8 l4,4 v11 h-12 z" fill="#fff" stroke="#8a8a8a" stroke-width="1"/>
<rect x="556.5" y="1" width="3" height="1.5" fill="#888"/><rect x="556.5" y="4" width="6" height="1" fill="#aaa"/><rect x="556.5" y="7" width="5" height="1" fill="#aaa"/>
<path d="M562.2,5.6 h3.6 v3.6 h3.6 v3.6 h-3.6 v3.6 h-3.6 v-3.6 h-3.6 v-3.6 h3.6 z" fill="url(#gg)" stroke="#11901a" stroke-width="0.6"/>
<polygon points="576,6 582,6 579,9.5" fill="#000"/>
<circle cx="600" cy="7" r="6.800" fill="#f4f8ff" stroke="url(#gb)" stroke-width="2.400"/><path d="M600,3.500 V7.500 H603" stroke="#444" stroke-width="1" fill="none"/>
<polygon points="615,6 621,6 618,9.5" fill="#000"/>
<rect x="631.500" y="-1" width="15" height="14.500" rx="1" fill="#fff" stroke="#2f6fd0" stroke-width="1.300"/><rect x="631" y="-1" width="16" height="3" fill="#3a7ad8"/>
<path d="M633.500,6 l2.500,-1 l2,0.500 l2.500,-1.500 l2,1 l2,-1" stroke="#a82a1a" stroke-width="1.200" fill="none"/><rect x="632" y="8" width="14" height="0.800" fill="#3a7ad8"/><path d="M633.500,11.500 l2.500,-0.500 l2,0.500 l2.500,-2 l2,1.500 l1.500,0.500" stroke="#1f9a2a" stroke-width="1.200" fill="none"/>
<polygon points="654,6 660,6 657,9.5" fill="#000"/>
<rect x="665" y="0" width="1" height="19" fill="#9a9a9a"/>
<rect x="669" y="1" width="3" height="1" fill="#a8a8a8"/>
<rect x="669" y="3" width="3" height="1" fill="#a8a8a8"/>
<rect x="669" y="5" width="3" height="1" fill="#a8a8a8"/>
<rect x="669" y="7" width="3" height="1" fill="#a8a8a8"/>
<rect x="669" y="9" width="3" height="1" fill="#a8a8a8"/>
<rect x="669" y="11" width="3" height="1" fill="#a8a8a8"/>
<rect x="669" y="13" width="3" height="1" fill="#a8a8a8"/>
<rect x="669" y="15" width="3" height="1" fill="#a8a8a8"/>
<rect x="675" y="0" width="1" height="17" fill="#a0a0a0"/>
<rect x="676" y="0" width="24" height="17" fill="url(#dots)"/>
<path d="M683.500,-1 L683.500,10.500 L686.200,8.200 L688.500,13.800 L690.300,13 L688,7.600 L691.500,7.300 Z" fill="#4a4a4a"/>
<path d="M715.500,0 V5.500 M715.500,9.500 V15 M708,7.500 H713.500 M717.500,7.500 H723" stroke="#4a4a4a" stroke-width="1.100"/><rect x="715" y="7" width="1" height="1" fill="#4a4a4a"/>
<rect x="732" y="0" width="1" height="17" fill="#a0a0a0"/>
<rect x="749" y="1" width="1.200" height="13" fill="#4a4a4a"/>
<rect x="772" y="7" width="12" height="1.200" fill="#4a4a4a"/>
<path d="M800,14 L812,2" stroke="#4a4a4a" stroke-width="1.200"/>
<g stroke="#4a4a4a" stroke-width="1" fill="none"><path d="M826,10 L838,-1 M829,13.500 L840,4 M827.500,11.500 L839,1.500"/><path d="M829,6 l1.500,6 M832,3.500 l1.500,6 M835,1 l1.500,6"/></g>
<text x="836.500" y="16" font-size="6.500" font-weight="bold" fill="#4a4a4a">E</text>
<path d="M855,0.5 H867.500" stroke="#4a4a4a" stroke-width="1" stroke-dasharray="1,1"/>
<path d="M855,4.0 H867.500" stroke="#4a4a4a" stroke-width="1" stroke-dasharray="1,1"/>
<path d="M855,8.0 H867.500" stroke="#4a4a4a" stroke-width="1" stroke-dasharray="1,1"/>
<path d="M855,12.0 H867.500" stroke="#4a4a4a" stroke-width="1" stroke-dasharray="1,1"/>
<text x="864.800" y="16" font-size="6.500" font-weight="bold" fill="#4a4a4a">F</text>
<text x="885.300" y="12" font-size="12.500" fill="#5a5a5a" stroke="#5a5a5a" stroke-width="0.5" textLength="8.500" lengthAdjust="spacingAndGlyphs">A</text>
<rect x="912.500" y="1.500" width="11.500" height="12" fill="none" stroke="#4a4a4a" stroke-width="1" stroke-dasharray="1,1"/><rect x="911" y="0" width="3" height="1.500" fill="#4a4a4a"/>
<text x="913.800" y="11.300" font-size="10.500" fill="#4a4a4a" stroke="#4a4a4a" stroke-width="0.5" textLength="8.500" lengthAdjust="spacingAndGlyphs">T</text>
<path d="M942.500,0.500 l3,3 l-3,2.500 l-3,-2.500 z M950,8.500 l3,2.500 l-3,3 l-3,-3 z" fill="#4a4a4a"/><path d="M941.500,8 l2,2 l4,-4.500" stroke="#4a4a4a" stroke-width="1.300" fill="none"/>
<polygon points="960,6 966,6 963,9.5" fill="#000"/>
<rect x="971" y="0" width="1" height="19" fill="#9a9a9a"/>
<rect x="975" y="1" width="3" height="1" fill="#a8a8a8"/>
<rect x="975" y="3" width="3" height="1" fill="#a8a8a8"/>
<rect x="975" y="5" width="3" height="1" fill="#a8a8a8"/>
<rect x="975" y="7" width="3" height="1" fill="#a8a8a8"/>
<rect x="975" y="9" width="3" height="1" fill="#a8a8a8"/>
<rect x="975" y="11" width="3" height="1" fill="#a8a8a8"/>
<rect x="975" y="13" width="3" height="1" fill="#a8a8a8"/>
<rect x="975" y="15" width="3" height="1" fill="#a8a8a8"/>
<text x="986.5" y="10.500" font-size="9" fill="#3c3c3c" textLength="13" lengthAdjust="spacingAndGlyphs">M1</text>
<text x="1014.5" y="10.500" font-size="9" fill="#3c3c3c" textLength="13" lengthAdjust="spacingAndGlyphs">M5</text>
<text x="1040.5" y="10.500" font-size="9" fill="#3c3c3c" textLength="17.5" lengthAdjust="spacingAndGlyphs">M15</text>
<text x="1068.5" y="10.500" font-size="9" fill="#3c3c3c" textLength="17.5" lengthAdjust="spacingAndGlyphs">M30</text>
<text x="1099.5" y="10.500" font-size="9" fill="#3c3c3c" textLength="12" lengthAdjust="spacingAndGlyphs">H1</text>
<rect x="1121" y="0" width="1" height="17" fill="#a0a0a0"/>
<rect x="1122" y="0" width="25" height="17" fill="url(#dots)"/>
<text x="1126.5" y="10.500" font-size="9" fill="#3c3c3c" textLength="12" lengthAdjust="spacingAndGlyphs">H4</text>
<text x="1155.5" y="10.500" font-size="9" fill="#3c3c3c" textLength="12" lengthAdjust="spacingAndGlyphs">D1</text>
<text x="1183" y="10.500" font-size="9" fill="#3c3c3c" textLength="14" lengthAdjust="spacingAndGlyphs">W1</text>
<text x="1209.5" y="10.500" font-size="9" fill="#3c3c3c" textLength="15" lengthAdjust="spacingAndGlyphs">MN</text>
<rect x="1232" y="0" width="1" height="19" fill="#9a9a9a"/>
<path d="M1646.800,7.200 L1642,11.800" stroke="#1f4fb8" stroke-width="2.200" stroke-linecap="round"/><circle cx="1649.800" cy="4.100" r="3.700" fill="#f4f6fa" stroke="#3a66d0" stroke-width="1.200"/>
<path d="M1668,5 q-2.500,2 -1.500,5 q1,2.500 3.500,3 l-0.500,2.500 l2.500,-2.200 q4,0.300 7,-1.300 l0,-7 z" fill="#e4e6ee" stroke="#c4c6ce" stroke-width="0.800"/>
<circle cx="1680.500" cy="5" r="8.100" fill="url(#gr)"/>
<text x="1680" y="9" font-size="13" font-family="Liberation Serif, serif" font-weight="bold" fill="#fff" text-anchor="middle">1</text>
</svg>
<svg width="212" height="60" viewBox="0 42 212 60" style="position:absolute;left:0;top:42px" font-family="Liberation Sans, sans-serif">
<defs><linearGradient id="r1" x1="0" y1="0" x2="0" y2="1"><stop offset="0" stop-color="#fb5353"/><stop offset="1" stop-color="#de2c2c"/></linearGradient><linearGradient id="r2" x1="0" y1="0" x2="0" y2="1"><stop offset="0" stop-color="#d92a2a"/><stop offset="0.5" stop-color="#c81818"/><stop offset="1" stop-color="#b00505"/></linearGradient><linearGradient id="sb" x1="0" y1="0" x2="0" y2="1"><stop offset="0" stop-color="#f2f2f2"/><stop offset="0.45" stop-color="#e4e4e4"/><stop offset="0.5" stop-color="#d4d4d4"/><stop offset="1" stop-color="#cfcfcf"/></linearGradient></defs>
<rect x="0" y="43" width="210" height="59" fill="#fff"/>
<rect x="0" y="43" width="43" height="25" fill="url(#r1)"/><rect x="0" y="43" width="43" height="1" fill="#c01010"/><rect x="42" y="43" width="1" height="25" fill="#b80808"/>
<rect x="0" y="67" width="100" height="33" fill="url(#r2)"/><rect x="99" y="67" width="1" height="33" fill="#a00000"/><rect x="0" y="99" width="100" height="1" fill="#a00000"/><rect x="43" y="67" width="57" height="1" fill="#b80808"/>
<rect x="0" y="66" width="39" height="1" fill="#a40808"/><rect x="0" y="67" width="39" height="1" fill="#f06a6a"/>
<text x="3.500" y="59.100" font-size="12" fill="#fff" textLength="25.500" lengthAdjust="spacingAndGlyphs">SELL</text>
<text x="11.500" y="94.300" font-size="11.500" font-weight="bold" fill="#fff" textLength="23" lengthAdjust="spacingAndGlyphs">1.36</text>
<text x="38.500" y="95" font-size="34.5" fill="#fff" textLength="35" lengthAdjust="spacingAndGlyphs" stroke="#c81818" stroke-width="0.6">00</text>
<text x="78.300" y="79" font-size="12" font-weight="bold" fill="#fff">5</text>
<rect x="158" y="43" width="52" height="25" fill="url(#r1)"/><rect x="158" y="43" width="52" height="1" fill="#c01010"/><rect x="158" y="43" width="1" height="25" fill="#b80808"/><rect x="209" y="43" width="1" height="57" fill="#b80808"/>
<rect x="102" y="67" width="108" height="33" fill="url(#r2)"/><rect x="102" y="67" width="1" height="33" fill="#a00000"/><rect x="102" y="99" width="108" height="1" fill="#a00000"/><rect x="102" y="67" width="57" height="1" fill="#b80808"/><rect x="209" y="43" width="1" height="57" fill="#a80606"/>
<rect x="162" y="66" width="44" height="1" fill="#a40808"/><rect x="162" y="67" width="44" height="1" fill="#f06a6a"/>
<text x="171.600" y="58.800" font-size="12" fill="#fff" textLength="23" lengthAdjust="spacingAndGlyphs">BUY</text>
<text x="121.400" y="94.300" font-size="11.500" font-weight="bold" fill="#fff" textLength="23.400" lengthAdjust="spacingAndGlyphs">1.36</text>
<text x="150" y="95" font-size="34.5" fill="#fff" textLength="33.500" lengthAdjust="spacingAndGlyphs" stroke="#c81818" stroke-width="0.6">03</text>
<text x="189" y="79" font-size="12" font-weight="bold" fill="#fff">0</text>
<rect x="45.500" y="43.500" width="110" height="21" fill="#fff" stroke="#a6a8b0" stroke-width="1"/>
<rect x="46.500" y="44.500" width="19.500" height="19" fill="url(#sb)"/><rect x="66" y="44" width="1" height="20" fill="#a6a8b0"/>
<rect x="135.500" y="44.500" width="19.500" height="19" fill="url(#sb)"/><rect x="134.500" y="44" width="1" height="20" fill="#a6a8b0"/>
<polygon points="52.800,52 58.200,52 55.500,55.200" fill="#4a5cc0"/><polygon points="141.800,54.600 147.200,54.600 144.500,51.400" fill="#4a5cc0"/>
<text x="107.800" y="58" font-size="12" fill="#000" textLength="23" lengthAdjust="spacingAndGlyphs">1.00</text>
</svg>
</body></html>
